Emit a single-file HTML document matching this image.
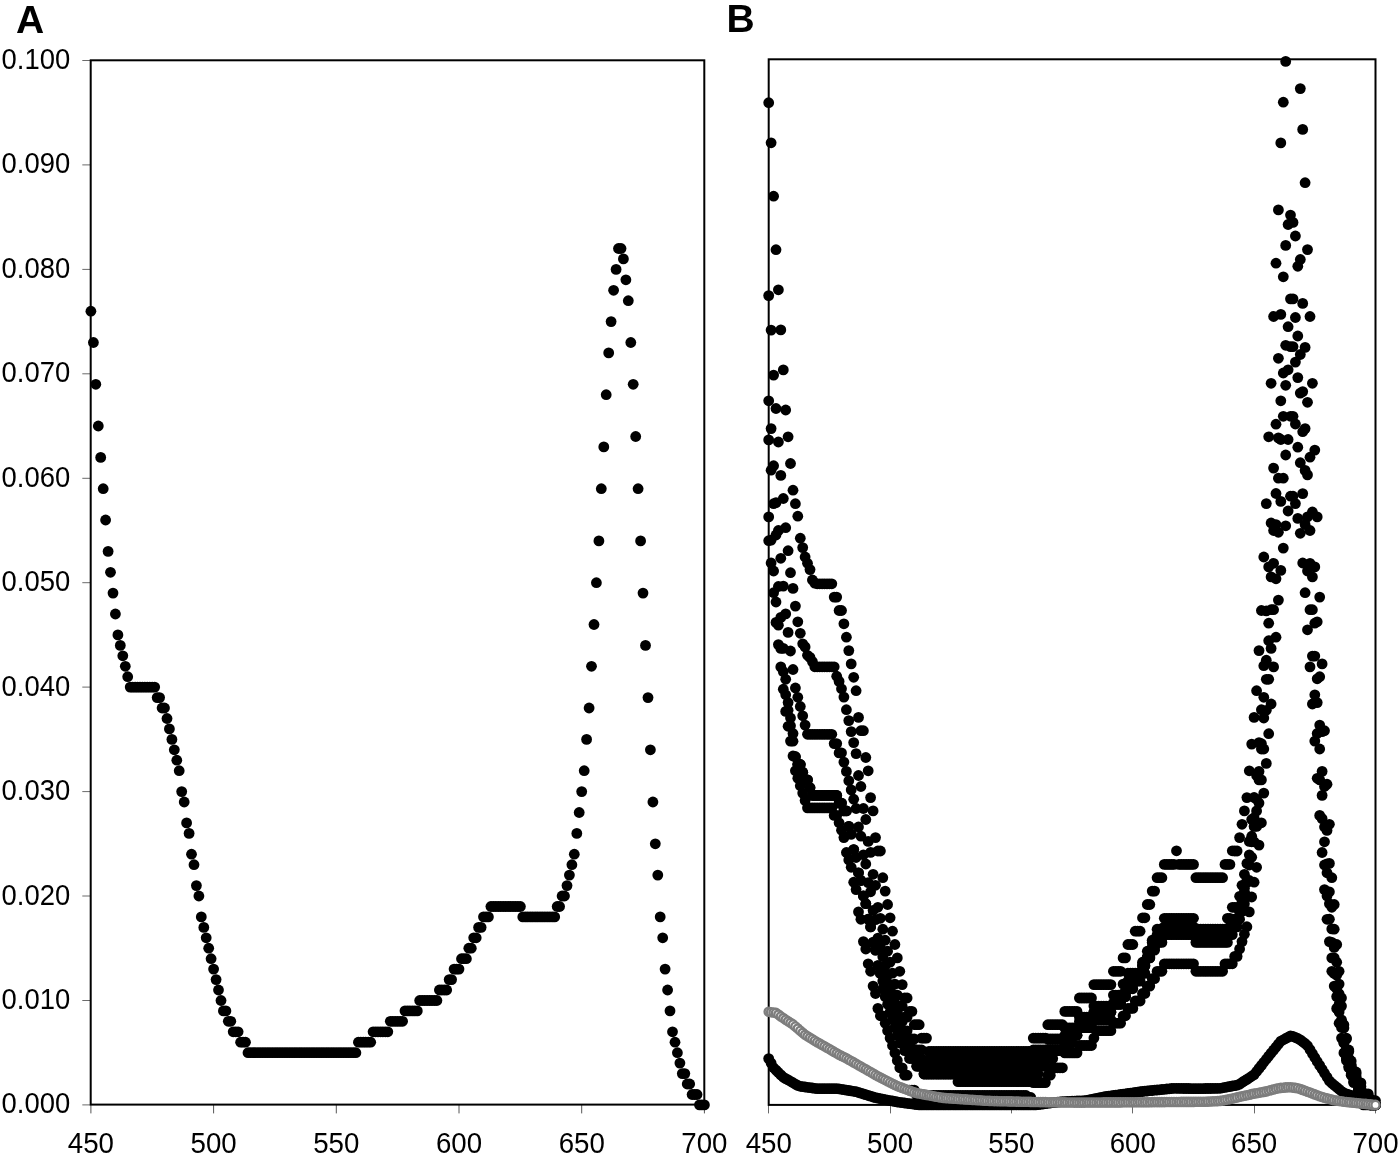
<!DOCTYPE html><html><head><meta charset="utf-8"><style>html,body{margin:0;padding:0;background:#fff;}svg{display:block;filter:grayscale(1);}text{font-family:"Liberation Sans",sans-serif;fill:#000;}</style></head><body><svg width="1400" height="1156" viewBox="0 0 1400 1156">
<rect width="1400" height="1156" fill="#fff"/>
<text x="16" y="32.8" font-family="Liberation Sans" font-weight="bold" font-size="39">A</text>
<text x="726.5" y="32.3" font-family="Liberation Sans" font-weight="bold" font-size="39">B</text>
<line x1="82.3" y1="1104.9" x2="90" y2="1104.9" stroke="#6a6a6a" stroke-width="1"/>
<text transform="translate(70.2,1113.4) scale(0.918,1)" text-anchor="end" font-family="Liberation Sans" font-size="29.9">0.000</text>
<line x1="82.3" y1="1000.5" x2="90" y2="1000.5" stroke="#6a6a6a" stroke-width="1"/>
<text transform="translate(70.2,1009.0) scale(0.918,1)" text-anchor="end" font-family="Liberation Sans" font-size="29.9">0.010</text>
<line x1="82.3" y1="896.0" x2="90" y2="896.0" stroke="#6a6a6a" stroke-width="1"/>
<text transform="translate(70.2,904.5) scale(0.918,1)" text-anchor="end" font-family="Liberation Sans" font-size="29.9">0.020</text>
<line x1="82.3" y1="791.6" x2="90" y2="791.6" stroke="#6a6a6a" stroke-width="1"/>
<text transform="translate(70.2,800.1) scale(0.918,1)" text-anchor="end" font-family="Liberation Sans" font-size="29.9">0.030</text>
<line x1="82.3" y1="687.1" x2="90" y2="687.1" stroke="#6a6a6a" stroke-width="1"/>
<text transform="translate(70.2,695.6) scale(0.918,1)" text-anchor="end" font-family="Liberation Sans" font-size="29.9">0.040</text>
<line x1="82.3" y1="582.7" x2="90" y2="582.7" stroke="#6a6a6a" stroke-width="1"/>
<text transform="translate(70.2,591.2) scale(0.918,1)" text-anchor="end" font-family="Liberation Sans" font-size="29.9">0.050</text>
<line x1="82.3" y1="478.3" x2="90" y2="478.3" stroke="#6a6a6a" stroke-width="1"/>
<text transform="translate(70.2,486.8) scale(0.918,1)" text-anchor="end" font-family="Liberation Sans" font-size="29.9">0.060</text>
<line x1="82.3" y1="373.8" x2="90" y2="373.8" stroke="#6a6a6a" stroke-width="1"/>
<text transform="translate(70.2,382.3) scale(0.918,1)" text-anchor="end" font-family="Liberation Sans" font-size="29.9">0.070</text>
<line x1="82.3" y1="269.4" x2="90" y2="269.4" stroke="#6a6a6a" stroke-width="1"/>
<text transform="translate(70.2,277.9) scale(0.918,1)" text-anchor="end" font-family="Liberation Sans" font-size="29.9">0.080</text>
<line x1="82.3" y1="164.9" x2="90" y2="164.9" stroke="#6a6a6a" stroke-width="1"/>
<text transform="translate(70.2,173.4) scale(0.918,1)" text-anchor="end" font-family="Liberation Sans" font-size="29.9">0.090</text>
<line x1="82.3" y1="60.5" x2="90" y2="60.5" stroke="#6a6a6a" stroke-width="1"/>
<text transform="translate(70.2,69.0) scale(0.918,1)" text-anchor="end" font-family="Liberation Sans" font-size="29.9">0.100</text>
<line x1="90.9" y1="1105" x2="90.9" y2="1113.4" stroke="#555" stroke-width="1"/>
<text transform="translate(90.9,1152.9) scale(0.925,1)" text-anchor="middle" font-family="Liberation Sans" font-size="29.9">450</text>
<line x1="768.5" y1="1105" x2="768.5" y2="1113.4" stroke="#6a6a6a" stroke-width="1"/>
<text transform="translate(768.7,1152.9) scale(0.925,1)" text-anchor="middle" font-family="Liberation Sans" font-size="29.9">450</text>
<line x1="213.6" y1="1105" x2="213.6" y2="1113.4" stroke="#555" stroke-width="1"/>
<text transform="translate(213.6,1152.9) scale(0.925,1)" text-anchor="middle" font-family="Liberation Sans" font-size="29.9">500</text>
<line x1="890.5" y1="1105" x2="890.5" y2="1113.4" stroke="#6a6a6a" stroke-width="1"/>
<text transform="translate(890.1,1152.9) scale(0.925,1)" text-anchor="middle" font-family="Liberation Sans" font-size="29.9">500</text>
<line x1="336.3" y1="1105" x2="336.3" y2="1113.4" stroke="#555" stroke-width="1"/>
<text transform="translate(336.3,1152.9) scale(0.925,1)" text-anchor="middle" font-family="Liberation Sans" font-size="29.9">550</text>
<line x1="1011.5" y1="1105" x2="1011.5" y2="1113.4" stroke="#6a6a6a" stroke-width="1"/>
<text transform="translate(1011.4,1152.9) scale(0.925,1)" text-anchor="middle" font-family="Liberation Sans" font-size="29.9">550</text>
<line x1="459.0" y1="1105" x2="459.0" y2="1113.4" stroke="#555" stroke-width="1"/>
<text transform="translate(459.0,1152.9) scale(0.925,1)" text-anchor="middle" font-family="Liberation Sans" font-size="29.9">600</text>
<line x1="1132.5" y1="1105" x2="1132.5" y2="1113.4" stroke="#6a6a6a" stroke-width="1"/>
<text transform="translate(1132.8,1152.9) scale(0.925,1)" text-anchor="middle" font-family="Liberation Sans" font-size="29.9">600</text>
<line x1="581.7" y1="1105" x2="581.7" y2="1113.4" stroke="#555" stroke-width="1"/>
<text transform="translate(581.7,1152.9) scale(0.925,1)" text-anchor="middle" font-family="Liberation Sans" font-size="29.9">650</text>
<line x1="1254.5" y1="1105" x2="1254.5" y2="1113.4" stroke="#6a6a6a" stroke-width="1"/>
<text transform="translate(1254.1,1152.9) scale(0.925,1)" text-anchor="middle" font-family="Liberation Sans" font-size="29.9">650</text>
<line x1="704.4" y1="1105" x2="704.4" y2="1113.4" stroke="#555" stroke-width="1"/>
<text transform="translate(704.4,1152.9) scale(0.925,1)" text-anchor="middle" font-family="Liberation Sans" font-size="29.9">700</text>
<line x1="1375.5" y1="1105" x2="1375.5" y2="1113.4" stroke="#6a6a6a" stroke-width="1"/>
<text transform="translate(1375.5,1152.9) scale(0.925,1)" text-anchor="middle" font-family="Liberation Sans" font-size="29.9">700</text>
<rect x="90.7" y="60.3" width="613.6" height="1044.3" fill="none" stroke="#000" stroke-width="2"/>
<rect x="768.7" y="59.3" width="606.8" height="1045.6" fill="none" stroke="#000" stroke-width="2"/>
<g fill="#000">
<circle cx="90.9" cy="311.2" r="5.4"/>
<circle cx="93.4" cy="342.5" r="5.4"/>
<circle cx="95.8" cy="384.3" r="5.4"/>
<circle cx="98.3" cy="426.0" r="5.4"/>
<circle cx="100.7" cy="457.4" r="5.4"/>
<circle cx="103.2" cy="488.7" r="5.4"/>
<circle cx="105.6" cy="520.0" r="5.4"/>
<circle cx="108.1" cy="551.4" r="5.4"/>
<circle cx="110.5" cy="572.3" r="5.4"/>
<circle cx="113.0" cy="593.1" r="5.4"/>
<circle cx="115.4" cy="614.0" r="5.4"/>
<circle cx="117.9" cy="634.9" r="5.4"/>
<circle cx="120.3" cy="645.4" r="5.4"/>
<circle cx="122.8" cy="655.8" r="5.4"/>
<circle cx="125.3" cy="666.3" r="5.4"/>
<circle cx="127.7" cy="676.7" r="5.4"/>
<circle cx="130.2" cy="687.1" r="5.4"/>
<circle cx="132.6" cy="687.1" r="5.4"/>
<circle cx="135.1" cy="687.1" r="5.4"/>
<circle cx="137.5" cy="687.1" r="5.4"/>
<circle cx="140.0" cy="687.1" r="5.4"/>
<circle cx="142.4" cy="687.1" r="5.4"/>
<circle cx="144.9" cy="687.1" r="5.4"/>
<circle cx="147.3" cy="687.1" r="5.4"/>
<circle cx="149.8" cy="687.1" r="5.4"/>
<circle cx="152.2" cy="687.1" r="5.4"/>
<circle cx="154.7" cy="687.1" r="5.4"/>
<circle cx="157.2" cy="697.6" r="5.4"/>
<circle cx="159.6" cy="697.6" r="5.4"/>
<circle cx="162.1" cy="708.0" r="5.4"/>
<circle cx="164.5" cy="708.0" r="5.4"/>
<circle cx="167.0" cy="718.5" r="5.4"/>
<circle cx="169.4" cy="728.9" r="5.4"/>
<circle cx="171.9" cy="739.4" r="5.4"/>
<circle cx="174.3" cy="749.8" r="5.4"/>
<circle cx="176.8" cy="760.2" r="5.4"/>
<circle cx="179.2" cy="770.7" r="5.4"/>
<circle cx="181.7" cy="791.6" r="5.4"/>
<circle cx="184.2" cy="802.0" r="5.4"/>
<circle cx="186.6" cy="822.9" r="5.4"/>
<circle cx="189.1" cy="833.4" r="5.4"/>
<circle cx="191.5" cy="854.2" r="5.4"/>
<circle cx="194.0" cy="864.7" r="5.4"/>
<circle cx="196.4" cy="885.6" r="5.4"/>
<circle cx="198.9" cy="896.0" r="5.4"/>
<circle cx="201.3" cy="916.9" r="5.4"/>
<circle cx="203.8" cy="927.4" r="5.4"/>
<circle cx="206.2" cy="937.8" r="5.4"/>
<circle cx="208.7" cy="948.2" r="5.4"/>
<circle cx="211.1" cy="958.7" r="5.4"/>
<circle cx="213.6" cy="969.1" r="5.4"/>
<circle cx="216.1" cy="979.6" r="5.4"/>
<circle cx="218.5" cy="990.0" r="5.4"/>
<circle cx="221.0" cy="1000.5" r="5.4"/>
<circle cx="223.4" cy="1010.9" r="5.4"/>
<circle cx="225.9" cy="1010.9" r="5.4"/>
<circle cx="228.3" cy="1021.3" r="5.4"/>
<circle cx="230.8" cy="1021.3" r="5.4"/>
<circle cx="233.2" cy="1031.8" r="5.4"/>
<circle cx="235.7" cy="1031.8" r="5.4"/>
<circle cx="238.1" cy="1031.8" r="5.4"/>
<circle cx="240.6" cy="1042.2" r="5.4"/>
<circle cx="243.0" cy="1042.2" r="5.4"/>
<circle cx="245.5" cy="1042.2" r="5.4"/>
<circle cx="248.0" cy="1052.7" r="5.4"/>
<circle cx="250.4" cy="1052.7" r="5.4"/>
<circle cx="252.9" cy="1052.7" r="5.4"/>
<circle cx="255.3" cy="1052.7" r="5.4"/>
<circle cx="257.8" cy="1052.7" r="5.4"/>
<circle cx="260.2" cy="1052.7" r="5.4"/>
<circle cx="262.7" cy="1052.7" r="5.4"/>
<circle cx="265.1" cy="1052.7" r="5.4"/>
<circle cx="267.6" cy="1052.7" r="5.4"/>
<circle cx="270.0" cy="1052.7" r="5.4"/>
<circle cx="272.5" cy="1052.7" r="5.4"/>
<circle cx="275.0" cy="1052.7" r="5.4"/>
<circle cx="277.4" cy="1052.7" r="5.4"/>
<circle cx="279.9" cy="1052.7" r="5.4"/>
<circle cx="282.3" cy="1052.7" r="5.4"/>
<circle cx="284.8" cy="1052.7" r="5.4"/>
<circle cx="287.2" cy="1052.7" r="5.4"/>
<circle cx="289.7" cy="1052.7" r="5.4"/>
<circle cx="292.1" cy="1052.7" r="5.4"/>
<circle cx="294.6" cy="1052.7" r="5.4"/>
<circle cx="297.0" cy="1052.7" r="5.4"/>
<circle cx="299.5" cy="1052.7" r="5.4"/>
<circle cx="301.9" cy="1052.7" r="5.4"/>
<circle cx="304.4" cy="1052.7" r="5.4"/>
<circle cx="306.9" cy="1052.7" r="5.4"/>
<circle cx="309.3" cy="1052.7" r="5.4"/>
<circle cx="311.8" cy="1052.7" r="5.4"/>
<circle cx="314.2" cy="1052.7" r="5.4"/>
<circle cx="316.7" cy="1052.7" r="5.4"/>
<circle cx="319.1" cy="1052.7" r="5.4"/>
<circle cx="321.6" cy="1052.7" r="5.4"/>
<circle cx="324.0" cy="1052.7" r="5.4"/>
<circle cx="326.5" cy="1052.7" r="5.4"/>
<circle cx="328.9" cy="1052.7" r="5.4"/>
<circle cx="331.4" cy="1052.7" r="5.4"/>
<circle cx="333.8" cy="1052.7" r="5.4"/>
<circle cx="336.3" cy="1052.7" r="5.4"/>
<circle cx="338.8" cy="1052.7" r="5.4"/>
<circle cx="341.2" cy="1052.7" r="5.4"/>
<circle cx="343.7" cy="1052.7" r="5.4"/>
<circle cx="346.1" cy="1052.7" r="5.4"/>
<circle cx="348.6" cy="1052.7" r="5.4"/>
<circle cx="351.0" cy="1052.7" r="5.4"/>
<circle cx="353.5" cy="1052.7" r="5.4"/>
<circle cx="355.9" cy="1052.7" r="5.4"/>
<circle cx="358.4" cy="1042.2" r="5.4"/>
<circle cx="360.8" cy="1042.2" r="5.4"/>
<circle cx="363.3" cy="1042.2" r="5.4"/>
<circle cx="365.7" cy="1042.2" r="5.4"/>
<circle cx="368.2" cy="1042.2" r="5.4"/>
<circle cx="370.7" cy="1042.2" r="5.4"/>
<circle cx="373.1" cy="1031.8" r="5.4"/>
<circle cx="375.6" cy="1031.8" r="5.4"/>
<circle cx="378.0" cy="1031.8" r="5.4"/>
<circle cx="380.5" cy="1031.8" r="5.4"/>
<circle cx="382.9" cy="1031.8" r="5.4"/>
<circle cx="385.4" cy="1031.8" r="5.4"/>
<circle cx="387.8" cy="1031.8" r="5.4"/>
<circle cx="390.3" cy="1021.3" r="5.4"/>
<circle cx="392.7" cy="1021.3" r="5.4"/>
<circle cx="395.2" cy="1021.3" r="5.4"/>
<circle cx="397.6" cy="1021.3" r="5.4"/>
<circle cx="400.1" cy="1021.3" r="5.4"/>
<circle cx="402.6" cy="1021.3" r="5.4"/>
<circle cx="405.0" cy="1010.9" r="5.4"/>
<circle cx="407.5" cy="1010.9" r="5.4"/>
<circle cx="409.9" cy="1010.9" r="5.4"/>
<circle cx="412.4" cy="1010.9" r="5.4"/>
<circle cx="414.8" cy="1010.9" r="5.4"/>
<circle cx="417.3" cy="1010.9" r="5.4"/>
<circle cx="419.7" cy="1000.5" r="5.4"/>
<circle cx="422.2" cy="1000.5" r="5.4"/>
<circle cx="424.6" cy="1000.5" r="5.4"/>
<circle cx="427.1" cy="1000.5" r="5.4"/>
<circle cx="429.6" cy="1000.5" r="5.4"/>
<circle cx="432.0" cy="1000.5" r="5.4"/>
<circle cx="434.5" cy="1000.5" r="5.4"/>
<circle cx="436.9" cy="1000.5" r="5.4"/>
<circle cx="439.4" cy="990.0" r="5.4"/>
<circle cx="441.8" cy="990.0" r="5.4"/>
<circle cx="444.3" cy="990.0" r="5.4"/>
<circle cx="446.7" cy="990.0" r="5.4"/>
<circle cx="449.2" cy="979.6" r="5.4"/>
<circle cx="451.6" cy="979.6" r="5.4"/>
<circle cx="454.1" cy="969.1" r="5.4"/>
<circle cx="456.5" cy="969.1" r="5.4"/>
<circle cx="459.0" cy="969.1" r="5.4"/>
<circle cx="461.5" cy="958.7" r="5.4"/>
<circle cx="463.9" cy="958.7" r="5.4"/>
<circle cx="466.4" cy="958.7" r="5.4"/>
<circle cx="468.8" cy="948.2" r="5.4"/>
<circle cx="471.3" cy="948.2" r="5.4"/>
<circle cx="473.7" cy="937.8" r="5.4"/>
<circle cx="476.2" cy="937.8" r="5.4"/>
<circle cx="478.6" cy="927.4" r="5.4"/>
<circle cx="481.1" cy="927.4" r="5.4"/>
<circle cx="483.5" cy="916.9" r="5.4"/>
<circle cx="486.0" cy="916.9" r="5.4"/>
<circle cx="488.4" cy="916.9" r="5.4"/>
<circle cx="490.9" cy="906.5" r="5.4"/>
<circle cx="493.4" cy="906.5" r="5.4"/>
<circle cx="495.8" cy="906.5" r="5.4"/>
<circle cx="498.3" cy="906.5" r="5.4"/>
<circle cx="500.7" cy="906.5" r="5.4"/>
<circle cx="503.2" cy="906.5" r="5.4"/>
<circle cx="505.6" cy="906.5" r="5.4"/>
<circle cx="508.1" cy="906.5" r="5.4"/>
<circle cx="510.5" cy="906.5" r="5.4"/>
<circle cx="513.0" cy="906.5" r="5.4"/>
<circle cx="515.4" cy="906.5" r="5.4"/>
<circle cx="517.9" cy="906.5" r="5.4"/>
<circle cx="520.4" cy="906.5" r="5.4"/>
<circle cx="522.8" cy="916.9" r="5.4"/>
<circle cx="525.3" cy="916.9" r="5.4"/>
<circle cx="527.7" cy="916.9" r="5.4"/>
<circle cx="530.2" cy="916.9" r="5.4"/>
<circle cx="532.6" cy="916.9" r="5.4"/>
<circle cx="535.1" cy="916.9" r="5.4"/>
<circle cx="537.5" cy="916.9" r="5.4"/>
<circle cx="540.0" cy="916.9" r="5.4"/>
<circle cx="542.4" cy="916.9" r="5.4"/>
<circle cx="544.9" cy="916.9" r="5.4"/>
<circle cx="547.3" cy="916.9" r="5.4"/>
<circle cx="549.8" cy="916.9" r="5.4"/>
<circle cx="552.3" cy="916.9" r="5.4"/>
<circle cx="554.7" cy="916.9" r="5.4"/>
<circle cx="557.2" cy="906.5" r="5.4"/>
<circle cx="559.6" cy="906.5" r="5.4"/>
<circle cx="562.1" cy="896.0" r="5.4"/>
<circle cx="564.5" cy="896.0" r="5.4"/>
<circle cx="567.0" cy="885.6" r="5.4"/>
<circle cx="569.4" cy="875.1" r="5.4"/>
<circle cx="571.9" cy="864.7" r="5.4"/>
<circle cx="574.3" cy="854.2" r="5.4"/>
<circle cx="576.8" cy="833.4" r="5.4"/>
<circle cx="579.2" cy="812.5" r="5.4"/>
<circle cx="581.7" cy="791.6" r="5.4"/>
<circle cx="584.2" cy="770.7" r="5.4"/>
<circle cx="586.6" cy="739.4" r="5.4"/>
<circle cx="589.1" cy="708.0" r="5.4"/>
<circle cx="591.5" cy="666.3" r="5.4"/>
<circle cx="594.0" cy="624.5" r="5.4"/>
<circle cx="596.4" cy="582.7" r="5.4"/>
<circle cx="598.9" cy="540.9" r="5.4"/>
<circle cx="601.3" cy="488.7" r="5.4"/>
<circle cx="603.8" cy="446.9" r="5.4"/>
<circle cx="606.2" cy="394.7" r="5.4"/>
<circle cx="608.7" cy="352.9" r="5.4"/>
<circle cx="611.1" cy="321.6" r="5.4"/>
<circle cx="613.6" cy="290.3" r="5.4"/>
<circle cx="616.1" cy="269.4" r="5.4"/>
<circle cx="618.5" cy="248.5" r="5.4"/>
<circle cx="621.0" cy="248.5" r="5.4"/>
<circle cx="623.4" cy="258.9" r="5.4"/>
<circle cx="625.9" cy="279.8" r="5.4"/>
<circle cx="628.3" cy="300.7" r="5.4"/>
<circle cx="630.8" cy="342.5" r="5.4"/>
<circle cx="633.2" cy="384.3" r="5.4"/>
<circle cx="635.7" cy="436.5" r="5.4"/>
<circle cx="638.1" cy="488.7" r="5.4"/>
<circle cx="640.6" cy="540.9" r="5.4"/>
<circle cx="643.0" cy="593.1" r="5.4"/>
<circle cx="645.5" cy="645.4" r="5.4"/>
<circle cx="648.0" cy="697.6" r="5.4"/>
<circle cx="650.4" cy="749.8" r="5.4"/>
<circle cx="652.9" cy="802.0" r="5.4"/>
<circle cx="655.3" cy="843.8" r="5.4"/>
<circle cx="657.8" cy="875.1" r="5.4"/>
<circle cx="660.2" cy="916.9" r="5.4"/>
<circle cx="662.7" cy="937.8" r="5.4"/>
<circle cx="665.1" cy="969.1" r="5.4"/>
<circle cx="667.6" cy="990.0" r="5.4"/>
<circle cx="670.0" cy="1010.9" r="5.4"/>
<circle cx="672.5" cy="1031.8" r="5.4"/>
<circle cx="675.0" cy="1042.2" r="5.4"/>
<circle cx="677.4" cy="1052.7" r="5.4"/>
<circle cx="679.9" cy="1063.1" r="5.4"/>
<circle cx="682.3" cy="1073.6" r="5.4"/>
<circle cx="684.8" cy="1073.6" r="5.4"/>
<circle cx="687.2" cy="1084.0" r="5.4"/>
<circle cx="689.7" cy="1084.0" r="5.4"/>
<circle cx="692.1" cy="1094.5" r="5.4"/>
<circle cx="694.6" cy="1094.5" r="5.4"/>
<circle cx="697.0" cy="1094.5" r="5.4"/>
<circle cx="699.5" cy="1104.9" r="5.4"/>
<circle cx="701.9" cy="1104.9" r="5.4"/>
<circle cx="704.4" cy="1104.9" r="5.4"/>
</g>
<g fill="#000">
<circle cx="768.7" cy="102.7" r="5.4"/>
<circle cx="771.1" cy="142.8" r="5.4"/>
<circle cx="773.6" cy="196.2" r="5.4"/>
<circle cx="776.0" cy="249.7" r="5.4"/>
<circle cx="778.4" cy="289.8" r="5.4"/>
<circle cx="780.8" cy="329.9" r="5.4"/>
<circle cx="783.3" cy="369.9" r="5.4"/>
<circle cx="785.7" cy="410.0" r="5.4"/>
<circle cx="788.1" cy="436.8" r="5.4"/>
<circle cx="790.5" cy="463.5" r="5.4"/>
<circle cx="793.0" cy="490.2" r="5.4"/>
<circle cx="795.4" cy="503.7" r="5.4"/>
<circle cx="797.8" cy="516.2" r="5.4"/>
<circle cx="800.3" cy="538.2" r="5.4"/>
<circle cx="802.7" cy="547.6" r="5.4"/>
<circle cx="805.1" cy="557.0" r="5.4"/>
<circle cx="807.5" cy="563.3" r="5.4"/>
<circle cx="810.0" cy="569.6" r="5.4"/>
<circle cx="812.4" cy="580.0" r="5.4"/>
<circle cx="814.8" cy="583.1" r="5.4"/>
<circle cx="817.2" cy="583.8" r="5.4"/>
<circle cx="819.7" cy="583.8" r="5.4"/>
<circle cx="822.1" cy="583.8" r="5.4"/>
<circle cx="824.5" cy="583.8" r="5.4"/>
<circle cx="827.0" cy="583.8" r="5.4"/>
<circle cx="829.4" cy="583.8" r="5.4"/>
<circle cx="831.8" cy="583.8" r="5.4"/>
<circle cx="834.2" cy="597.1" r="5.4"/>
<circle cx="836.7" cy="597.1" r="5.4"/>
<circle cx="839.1" cy="610.5" r="5.4"/>
<circle cx="841.5" cy="610.5" r="5.4"/>
<circle cx="843.9" cy="623.8" r="5.4"/>
<circle cx="846.4" cy="637.2" r="5.4"/>
<circle cx="848.8" cy="650.6" r="5.4"/>
<circle cx="851.2" cy="663.9" r="5.4"/>
<circle cx="853.7" cy="677.3" r="5.4"/>
<circle cx="856.1" cy="690.7" r="5.4"/>
<circle cx="858.5" cy="717.4" r="5.4"/>
<circle cx="860.9" cy="730.7" r="5.4"/>
<circle cx="863.4" cy="730.7" r="5.4"/>
<circle cx="865.8" cy="757.5" r="5.4"/>
<circle cx="868.2" cy="770.8" r="5.4"/>
<circle cx="870.6" cy="797.6" r="5.4"/>
<circle cx="873.1" cy="810.9" r="5.4"/>
<circle cx="875.5" cy="837.6" r="5.4"/>
<circle cx="877.9" cy="851.0" r="5.4"/>
<circle cx="880.4" cy="851.0" r="5.4"/>
<circle cx="882.8" cy="877.7" r="5.4"/>
<circle cx="885.2" cy="891.1" r="5.4"/>
<circle cx="887.6" cy="904.5" r="5.4"/>
<circle cx="890.1" cy="917.8" r="5.4"/>
<circle cx="892.5" cy="931.2" r="5.4"/>
<circle cx="894.9" cy="944.5" r="5.4"/>
<circle cx="897.3" cy="957.9" r="5.4"/>
<circle cx="899.8" cy="971.3" r="5.4"/>
<circle cx="902.2" cy="984.6" r="5.4"/>
<circle cx="904.6" cy="998.0" r="5.4"/>
<circle cx="907.1" cy="998.0" r="5.4"/>
<circle cx="909.5" cy="1011.4" r="5.4"/>
<circle cx="911.9" cy="1011.4" r="5.4"/>
<circle cx="914.3" cy="1024.7" r="5.4"/>
<circle cx="916.8" cy="1024.7" r="5.4"/>
<circle cx="919.2" cy="1024.7" r="5.4"/>
<circle cx="921.6" cy="1038.1" r="5.4"/>
<circle cx="924.0" cy="1038.1" r="5.4"/>
<circle cx="926.5" cy="1038.1" r="5.4"/>
<circle cx="928.9" cy="1051.4" r="5.4"/>
<circle cx="931.3" cy="1051.4" r="5.4"/>
<circle cx="933.7" cy="1051.4" r="5.4"/>
<circle cx="936.2" cy="1051.4" r="5.4"/>
<circle cx="938.6" cy="1051.4" r="5.4"/>
<circle cx="941.0" cy="1051.4" r="5.4"/>
<circle cx="943.5" cy="1051.4" r="5.4"/>
<circle cx="945.9" cy="1051.4" r="5.4"/>
<circle cx="948.3" cy="1051.4" r="5.4"/>
<circle cx="950.7" cy="1051.4" r="5.4"/>
<circle cx="953.2" cy="1051.4" r="5.4"/>
<circle cx="955.6" cy="1051.4" r="5.4"/>
<circle cx="958.0" cy="1051.4" r="5.4"/>
<circle cx="960.4" cy="1051.4" r="5.4"/>
<circle cx="962.9" cy="1051.4" r="5.4"/>
<circle cx="965.3" cy="1051.4" r="5.4"/>
<circle cx="967.7" cy="1051.4" r="5.4"/>
<circle cx="970.2" cy="1051.4" r="5.4"/>
<circle cx="972.6" cy="1051.4" r="5.4"/>
<circle cx="975.0" cy="1051.4" r="5.4"/>
<circle cx="977.4" cy="1051.4" r="5.4"/>
<circle cx="979.9" cy="1051.4" r="5.4"/>
<circle cx="982.3" cy="1051.4" r="5.4"/>
<circle cx="984.7" cy="1051.4" r="5.4"/>
<circle cx="987.1" cy="1051.4" r="5.4"/>
<circle cx="989.6" cy="1051.4" r="5.4"/>
<circle cx="992.0" cy="1051.4" r="5.4"/>
<circle cx="994.4" cy="1051.4" r="5.4"/>
<circle cx="996.9" cy="1051.4" r="5.4"/>
<circle cx="999.3" cy="1051.4" r="5.4"/>
<circle cx="1001.7" cy="1051.4" r="5.4"/>
<circle cx="1004.1" cy="1051.4" r="5.4"/>
<circle cx="1006.6" cy="1051.4" r="5.4"/>
<circle cx="1009.0" cy="1051.4" r="5.4"/>
<circle cx="1011.4" cy="1051.4" r="5.4"/>
<circle cx="1013.8" cy="1051.4" r="5.4"/>
<circle cx="1016.3" cy="1051.4" r="5.4"/>
<circle cx="1018.7" cy="1051.4" r="5.4"/>
<circle cx="1021.1" cy="1051.4" r="5.4"/>
<circle cx="1023.6" cy="1051.4" r="5.4"/>
<circle cx="1026.0" cy="1051.4" r="5.4"/>
<circle cx="1028.4" cy="1051.4" r="5.4"/>
<circle cx="1030.8" cy="1051.4" r="5.4"/>
<circle cx="1033.3" cy="1038.1" r="5.4"/>
<circle cx="1035.7" cy="1038.1" r="5.4"/>
<circle cx="1038.1" cy="1038.1" r="5.4"/>
<circle cx="1040.5" cy="1038.1" r="5.4"/>
<circle cx="1043.0" cy="1038.1" r="5.4"/>
<circle cx="1045.4" cy="1038.1" r="5.4"/>
<circle cx="1047.8" cy="1024.7" r="5.4"/>
<circle cx="1050.3" cy="1024.7" r="5.4"/>
<circle cx="1052.7" cy="1024.7" r="5.4"/>
<circle cx="1055.1" cy="1024.7" r="5.4"/>
<circle cx="1057.5" cy="1024.7" r="5.4"/>
<circle cx="1060.0" cy="1024.7" r="5.4"/>
<circle cx="1062.4" cy="1024.7" r="5.4"/>
<circle cx="1064.8" cy="1011.4" r="5.4"/>
<circle cx="1067.2" cy="1011.4" r="5.4"/>
<circle cx="1069.7" cy="1011.4" r="5.4"/>
<circle cx="1072.1" cy="1011.4" r="5.4"/>
<circle cx="1074.5" cy="1011.4" r="5.4"/>
<circle cx="1077.0" cy="1011.4" r="5.4"/>
<circle cx="1079.4" cy="998.0" r="5.4"/>
<circle cx="1081.8" cy="998.0" r="5.4"/>
<circle cx="1084.2" cy="998.0" r="5.4"/>
<circle cx="1086.7" cy="998.0" r="5.4"/>
<circle cx="1089.1" cy="998.0" r="5.4"/>
<circle cx="1091.5" cy="998.0" r="5.4"/>
<circle cx="1093.9" cy="984.6" r="5.4"/>
<circle cx="1096.4" cy="984.6" r="5.4"/>
<circle cx="1098.8" cy="984.6" r="5.4"/>
<circle cx="1101.2" cy="984.6" r="5.4"/>
<circle cx="1103.7" cy="984.6" r="5.4"/>
<circle cx="1106.1" cy="984.6" r="5.4"/>
<circle cx="1108.5" cy="984.6" r="5.4"/>
<circle cx="1110.9" cy="984.6" r="5.4"/>
<circle cx="1113.4" cy="971.3" r="5.4"/>
<circle cx="1115.8" cy="971.3" r="5.4"/>
<circle cx="1118.2" cy="971.3" r="5.4"/>
<circle cx="1120.6" cy="971.3" r="5.4"/>
<circle cx="1123.1" cy="957.9" r="5.4"/>
<circle cx="1125.5" cy="957.9" r="5.4"/>
<circle cx="1127.9" cy="944.5" r="5.4"/>
<circle cx="1130.4" cy="944.5" r="5.4"/>
<circle cx="1132.8" cy="944.5" r="5.4"/>
<circle cx="1135.2" cy="931.2" r="5.4"/>
<circle cx="1137.6" cy="931.2" r="5.4"/>
<circle cx="1140.1" cy="931.2" r="5.4"/>
<circle cx="1142.5" cy="917.8" r="5.4"/>
<circle cx="1144.9" cy="917.8" r="5.4"/>
<circle cx="1147.3" cy="904.5" r="5.4"/>
<circle cx="1149.8" cy="904.5" r="5.4"/>
<circle cx="1152.2" cy="891.1" r="5.4"/>
<circle cx="1154.6" cy="891.1" r="5.4"/>
<circle cx="1157.1" cy="877.7" r="5.4"/>
<circle cx="1159.5" cy="877.7" r="5.4"/>
<circle cx="1161.9" cy="877.7" r="5.4"/>
<circle cx="1164.3" cy="864.4" r="5.4"/>
<circle cx="1166.8" cy="864.4" r="5.4"/>
<circle cx="1169.2" cy="864.4" r="5.4"/>
<circle cx="1171.6" cy="864.4" r="5.4"/>
<circle cx="1174.0" cy="864.4" r="5.4"/>
<circle cx="1176.5" cy="850.8" r="5.4"/>
<circle cx="1178.9" cy="864.4" r="5.4"/>
<circle cx="1181.3" cy="864.4" r="5.4"/>
<circle cx="1183.8" cy="864.4" r="5.4"/>
<circle cx="1186.2" cy="864.4" r="5.4"/>
<circle cx="1188.6" cy="864.4" r="5.4"/>
<circle cx="1191.0" cy="864.4" r="5.4"/>
<circle cx="1193.5" cy="864.4" r="5.4"/>
<circle cx="1195.9" cy="877.7" r="5.4"/>
<circle cx="1198.3" cy="877.7" r="5.4"/>
<circle cx="1200.7" cy="877.7" r="5.4"/>
<circle cx="1203.2" cy="877.7" r="5.4"/>
<circle cx="1205.6" cy="877.7" r="5.4"/>
<circle cx="1208.0" cy="877.7" r="5.4"/>
<circle cx="1210.5" cy="877.7" r="5.4"/>
<circle cx="1212.9" cy="877.7" r="5.4"/>
<circle cx="1215.3" cy="877.7" r="5.4"/>
<circle cx="1217.7" cy="877.7" r="5.4"/>
<circle cx="1220.2" cy="877.7" r="5.4"/>
<circle cx="1222.6" cy="877.7" r="5.4"/>
<circle cx="1225.0" cy="864.4" r="5.4"/>
<circle cx="1227.4" cy="864.4" r="5.4"/>
<circle cx="1229.9" cy="864.4" r="5.4"/>
<circle cx="1232.3" cy="850.8" r="5.4"/>
<circle cx="1234.7" cy="851.0" r="5.4"/>
<circle cx="1237.1" cy="851.0" r="5.4"/>
<circle cx="1239.6" cy="837.6" r="5.4"/>
<circle cx="1242.0" cy="824.3" r="5.4"/>
<circle cx="1244.4" cy="810.9" r="5.4"/>
<circle cx="1246.9" cy="797.6" r="5.4"/>
<circle cx="1249.3" cy="770.8" r="5.4"/>
<circle cx="1251.7" cy="744.1" r="5.4"/>
<circle cx="1254.1" cy="717.4" r="5.4"/>
<circle cx="1256.6" cy="690.7" r="5.4"/>
<circle cx="1259.0" cy="650.6" r="5.4"/>
<circle cx="1261.4" cy="610.5" r="5.4"/>
<circle cx="1263.8" cy="557.0" r="5.4"/>
<circle cx="1266.3" cy="503.6" r="5.4"/>
<circle cx="1268.7" cy="436.8" r="5.4"/>
<circle cx="1271.1" cy="383.3" r="5.4"/>
<circle cx="1273.6" cy="316.5" r="5.4"/>
<circle cx="1276.0" cy="263.2" r="5.4"/>
<circle cx="1278.4" cy="209.9" r="5.4"/>
<circle cx="1280.8" cy="142.9" r="5.4"/>
<circle cx="1283.3" cy="102.2" r="5.4"/>
<circle cx="1285.7" cy="61.4" r="5.4"/>
<circle cx="1300.3" cy="88.6" r="5.4"/>
<circle cx="1302.7" cy="129.4" r="5.4"/>
<circle cx="1305.1" cy="182.7" r="5.4"/>
<circle cx="1307.5" cy="249.6" r="5.4"/>
<circle cx="1310.0" cy="316.5" r="5.4"/>
<circle cx="1312.4" cy="383.3" r="5.4"/>
<circle cx="1314.8" cy="450.1" r="5.4"/>
<circle cx="1317.2" cy="516.9" r="5.4"/>
<circle cx="1319.7" cy="597.1" r="5.4"/>
<circle cx="1322.1" cy="663.9" r="5.4"/>
<circle cx="1324.5" cy="730.7" r="5.4"/>
<circle cx="1327.0" cy="784.2" r="5.4"/>
<circle cx="1329.4" cy="824.3" r="5.4"/>
<circle cx="1331.8" cy="877.7" r="5.4"/>
<circle cx="1334.2" cy="904.5" r="5.4"/>
<circle cx="1336.7" cy="944.5" r="5.4"/>
<circle cx="1339.1" cy="971.3" r="5.4"/>
<circle cx="1341.5" cy="998.0" r="5.4"/>
<circle cx="1343.9" cy="1024.7" r="5.4"/>
<circle cx="1346.4" cy="1038.1" r="5.4"/>
<circle cx="1348.8" cy="1051.4" r="5.4"/>
<circle cx="1351.2" cy="1064.8" r="5.4"/>
<circle cx="1353.7" cy="1078.2" r="5.4"/>
<circle cx="1356.1" cy="1078.2" r="5.4"/>
<circle cx="1358.5" cy="1091.5" r="5.4"/>
<circle cx="1360.9" cy="1091.5" r="5.4"/>
<circle cx="1363.4" cy="1104.9" r="5.4"/>
<circle cx="1365.8" cy="1104.9" r="5.4"/>
<circle cx="1368.2" cy="1104.9" r="5.4"/>
<circle cx="768.7" cy="295.6" r="5.4"/>
<circle cx="771.1" cy="330.1" r="5.4"/>
<circle cx="773.6" cy="375.1" r="5.4"/>
<circle cx="776.0" cy="408.5" r="5.4"/>
<circle cx="778.4" cy="442.0" r="5.4"/>
<circle cx="780.8" cy="475.4" r="5.4"/>
<circle cx="783.3" cy="498.5" r="5.4"/>
<circle cx="785.7" cy="527.7" r="5.4"/>
<circle cx="788.1" cy="550.7" r="5.4"/>
<circle cx="790.5" cy="572.7" r="5.4"/>
<circle cx="793.0" cy="588.4" r="5.4"/>
<circle cx="795.4" cy="606.1" r="5.4"/>
<circle cx="797.8" cy="621.8" r="5.4"/>
<circle cx="800.3" cy="633.3" r="5.4"/>
<circle cx="802.7" cy="643.8" r="5.4"/>
<circle cx="805.1" cy="646.9" r="5.4"/>
<circle cx="807.5" cy="655.3" r="5.4"/>
<circle cx="810.0" cy="657.4" r="5.4"/>
<circle cx="812.4" cy="661.6" r="5.4"/>
<circle cx="814.8" cy="666.8" r="5.4"/>
<circle cx="817.2" cy="666.8" r="5.4"/>
<circle cx="819.7" cy="666.8" r="5.4"/>
<circle cx="822.1" cy="666.8" r="5.4"/>
<circle cx="824.5" cy="666.8" r="5.4"/>
<circle cx="827.0" cy="666.8" r="5.4"/>
<circle cx="829.4" cy="666.8" r="5.4"/>
<circle cx="831.8" cy="666.8" r="5.4"/>
<circle cx="834.2" cy="666.8" r="5.4"/>
<circle cx="836.7" cy="676.2" r="5.4"/>
<circle cx="839.1" cy="681.4" r="5.4"/>
<circle cx="841.5" cy="688.8" r="5.4"/>
<circle cx="843.9" cy="697.1" r="5.4"/>
<circle cx="846.4" cy="709.7" r="5.4"/>
<circle cx="848.8" cy="720.6" r="5.4"/>
<circle cx="851.2" cy="731.6" r="5.4"/>
<circle cx="853.7" cy="742.6" r="5.4"/>
<circle cx="856.1" cy="753.6" r="5.4"/>
<circle cx="858.5" cy="775.5" r="5.4"/>
<circle cx="860.9" cy="786.5" r="5.4"/>
<circle cx="863.4" cy="808.5" r="5.4"/>
<circle cx="865.8" cy="819.5" r="5.4"/>
<circle cx="868.2" cy="841.4" r="5.4"/>
<circle cx="870.6" cy="852.4" r="5.4"/>
<circle cx="873.1" cy="874.3" r="5.4"/>
<circle cx="875.5" cy="885.3" r="5.4"/>
<circle cx="877.9" cy="907.3" r="5.4"/>
<circle cx="880.4" cy="918.3" r="5.4"/>
<circle cx="882.8" cy="929.2" r="5.4"/>
<circle cx="885.2" cy="940.2" r="5.4"/>
<circle cx="887.6" cy="951.2" r="5.4"/>
<circle cx="890.1" cy="962.2" r="5.4"/>
<circle cx="892.5" cy="973.2" r="5.4"/>
<circle cx="894.9" cy="984.1" r="5.4"/>
<circle cx="897.3" cy="995.1" r="5.4"/>
<circle cx="899.8" cy="1006.1" r="5.4"/>
<circle cx="902.2" cy="1006.1" r="5.4"/>
<circle cx="904.6" cy="1017.1" r="5.4"/>
<circle cx="907.1" cy="1017.1" r="5.4"/>
<circle cx="909.5" cy="1039.0" r="5.4"/>
<circle cx="911.9" cy="1039.0" r="5.4"/>
<circle cx="914.3" cy="1039.0" r="5.4"/>
<circle cx="916.8" cy="1050.0" r="5.4"/>
<circle cx="919.2" cy="1050.0" r="5.4"/>
<circle cx="921.6" cy="1050.0" r="5.4"/>
<circle cx="924.0" cy="1061.0" r="5.4"/>
<circle cx="926.5" cy="1061.0" r="5.4"/>
<circle cx="928.9" cy="1061.0" r="5.4"/>
<circle cx="931.3" cy="1061.0" r="5.4"/>
<circle cx="933.7" cy="1061.0" r="5.4"/>
<circle cx="936.2" cy="1061.0" r="5.4"/>
<circle cx="938.6" cy="1061.0" r="5.4"/>
<circle cx="941.0" cy="1061.0" r="5.4"/>
<circle cx="943.5" cy="1061.0" r="5.4"/>
<circle cx="945.9" cy="1061.0" r="5.4"/>
<circle cx="948.3" cy="1061.0" r="5.4"/>
<circle cx="950.7" cy="1061.0" r="5.4"/>
<circle cx="953.2" cy="1061.0" r="5.4"/>
<circle cx="955.6" cy="1061.0" r="5.4"/>
<circle cx="958.0" cy="1061.0" r="5.4"/>
<circle cx="960.4" cy="1061.0" r="5.4"/>
<circle cx="962.9" cy="1061.0" r="5.4"/>
<circle cx="965.3" cy="1061.0" r="5.4"/>
<circle cx="967.7" cy="1061.0" r="5.4"/>
<circle cx="970.2" cy="1061.0" r="5.4"/>
<circle cx="972.6" cy="1061.0" r="5.4"/>
<circle cx="975.0" cy="1061.0" r="5.4"/>
<circle cx="977.4" cy="1061.0" r="5.4"/>
<circle cx="979.9" cy="1061.0" r="5.4"/>
<circle cx="982.3" cy="1061.0" r="5.4"/>
<circle cx="984.7" cy="1061.0" r="5.4"/>
<circle cx="987.1" cy="1061.0" r="5.4"/>
<circle cx="989.6" cy="1061.0" r="5.4"/>
<circle cx="992.0" cy="1061.0" r="5.4"/>
<circle cx="994.4" cy="1061.0" r="5.4"/>
<circle cx="996.9" cy="1061.0" r="5.4"/>
<circle cx="999.3" cy="1061.0" r="5.4"/>
<circle cx="1001.7" cy="1061.0" r="5.4"/>
<circle cx="1004.1" cy="1061.0" r="5.4"/>
<circle cx="1006.6" cy="1061.0" r="5.4"/>
<circle cx="1009.0" cy="1061.0" r="5.4"/>
<circle cx="1011.4" cy="1061.0" r="5.4"/>
<circle cx="1013.8" cy="1061.0" r="5.4"/>
<circle cx="1016.3" cy="1061.0" r="5.4"/>
<circle cx="1018.7" cy="1061.0" r="5.4"/>
<circle cx="1021.1" cy="1061.0" r="5.4"/>
<circle cx="1023.6" cy="1061.0" r="5.4"/>
<circle cx="1026.0" cy="1061.0" r="5.4"/>
<circle cx="1028.4" cy="1061.0" r="5.4"/>
<circle cx="1030.8" cy="1061.0" r="5.4"/>
<circle cx="1033.3" cy="1050.0" r="5.4"/>
<circle cx="1035.7" cy="1050.0" r="5.4"/>
<circle cx="1038.1" cy="1050.0" r="5.4"/>
<circle cx="1040.5" cy="1050.0" r="5.4"/>
<circle cx="1043.0" cy="1050.0" r="5.4"/>
<circle cx="1045.4" cy="1050.0" r="5.4"/>
<circle cx="1047.8" cy="1039.0" r="5.4"/>
<circle cx="1050.3" cy="1039.0" r="5.4"/>
<circle cx="1052.7" cy="1039.0" r="5.4"/>
<circle cx="1055.1" cy="1039.0" r="5.4"/>
<circle cx="1057.5" cy="1039.0" r="5.4"/>
<circle cx="1060.0" cy="1039.0" r="5.4"/>
<circle cx="1062.4" cy="1039.0" r="5.4"/>
<circle cx="1064.8" cy="1028.0" r="5.4"/>
<circle cx="1067.2" cy="1028.0" r="5.4"/>
<circle cx="1069.7" cy="1028.0" r="5.4"/>
<circle cx="1072.1" cy="1028.0" r="5.4"/>
<circle cx="1074.5" cy="1028.0" r="5.4"/>
<circle cx="1077.0" cy="1028.0" r="5.4"/>
<circle cx="1079.4" cy="1017.1" r="5.4"/>
<circle cx="1081.8" cy="1017.1" r="5.4"/>
<circle cx="1084.2" cy="1017.1" r="5.4"/>
<circle cx="1086.7" cy="1017.1" r="5.4"/>
<circle cx="1089.1" cy="1017.1" r="5.4"/>
<circle cx="1091.5" cy="1017.1" r="5.4"/>
<circle cx="1093.9" cy="1006.1" r="5.4"/>
<circle cx="1096.4" cy="1006.1" r="5.4"/>
<circle cx="1098.8" cy="1006.1" r="5.4"/>
<circle cx="1101.2" cy="1006.1" r="5.4"/>
<circle cx="1103.7" cy="1006.1" r="5.4"/>
<circle cx="1106.1" cy="1006.1" r="5.4"/>
<circle cx="1108.5" cy="1006.1" r="5.4"/>
<circle cx="1110.9" cy="1006.1" r="5.4"/>
<circle cx="1113.4" cy="995.1" r="5.4"/>
<circle cx="1115.8" cy="995.1" r="5.4"/>
<circle cx="1118.2" cy="995.1" r="5.4"/>
<circle cx="1120.6" cy="995.1" r="5.4"/>
<circle cx="1123.1" cy="984.1" r="5.4"/>
<circle cx="1125.5" cy="984.1" r="5.4"/>
<circle cx="1127.9" cy="973.2" r="5.4"/>
<circle cx="1130.4" cy="973.2" r="5.4"/>
<circle cx="1132.8" cy="973.2" r="5.4"/>
<circle cx="1135.2" cy="973.2" r="5.4"/>
<circle cx="1137.6" cy="973.2" r="5.4"/>
<circle cx="1140.1" cy="973.2" r="5.4"/>
<circle cx="1142.5" cy="962.2" r="5.4"/>
<circle cx="1144.9" cy="962.2" r="5.4"/>
<circle cx="1147.3" cy="951.2" r="5.4"/>
<circle cx="1149.8" cy="951.2" r="5.4"/>
<circle cx="1152.2" cy="940.2" r="5.4"/>
<circle cx="1154.6" cy="940.2" r="5.4"/>
<circle cx="1157.1" cy="929.2" r="5.4"/>
<circle cx="1159.5" cy="929.2" r="5.4"/>
<circle cx="1161.9" cy="929.2" r="5.4"/>
<circle cx="1164.3" cy="918.3" r="5.4"/>
<circle cx="1166.8" cy="918.3" r="5.4"/>
<circle cx="1169.2" cy="918.3" r="5.4"/>
<circle cx="1171.6" cy="918.3" r="5.4"/>
<circle cx="1174.0" cy="918.3" r="5.4"/>
<circle cx="1176.5" cy="918.3" r="5.4"/>
<circle cx="1178.9" cy="918.3" r="5.4"/>
<circle cx="1181.3" cy="918.3" r="5.4"/>
<circle cx="1183.8" cy="918.3" r="5.4"/>
<circle cx="1186.2" cy="918.3" r="5.4"/>
<circle cx="1188.6" cy="918.3" r="5.4"/>
<circle cx="1191.0" cy="918.3" r="5.4"/>
<circle cx="1193.5" cy="918.3" r="5.4"/>
<circle cx="1195.9" cy="929.2" r="5.4"/>
<circle cx="1198.3" cy="929.2" r="5.4"/>
<circle cx="1200.7" cy="929.2" r="5.4"/>
<circle cx="1203.2" cy="929.2" r="5.4"/>
<circle cx="1205.6" cy="929.2" r="5.4"/>
<circle cx="1208.0" cy="929.2" r="5.4"/>
<circle cx="1210.5" cy="929.2" r="5.4"/>
<circle cx="1212.9" cy="929.2" r="5.4"/>
<circle cx="1215.3" cy="929.2" r="5.4"/>
<circle cx="1217.7" cy="929.2" r="5.4"/>
<circle cx="1220.2" cy="929.2" r="5.4"/>
<circle cx="1222.6" cy="929.2" r="5.4"/>
<circle cx="1225.0" cy="929.2" r="5.4"/>
<circle cx="1227.4" cy="918.3" r="5.4"/>
<circle cx="1229.9" cy="918.3" r="5.4"/>
<circle cx="1232.3" cy="907.3" r="5.4"/>
<circle cx="1234.7" cy="907.3" r="5.4"/>
<circle cx="1237.1" cy="907.3" r="5.4"/>
<circle cx="1239.6" cy="896.3" r="5.4"/>
<circle cx="1242.0" cy="885.3" r="5.4"/>
<circle cx="1244.4" cy="874.3" r="5.4"/>
<circle cx="1246.9" cy="863.4" r="5.4"/>
<circle cx="1249.3" cy="841.4" r="5.4"/>
<circle cx="1251.7" cy="819.5" r="5.4"/>
<circle cx="1254.1" cy="797.5" r="5.4"/>
<circle cx="1256.6" cy="775.5" r="5.4"/>
<circle cx="1259.0" cy="742.6" r="5.4"/>
<circle cx="1261.4" cy="709.7" r="5.4"/>
<circle cx="1263.8" cy="665.7" r="5.4"/>
<circle cx="1266.3" cy="610.9" r="5.4"/>
<circle cx="1268.7" cy="566.9" r="5.4"/>
<circle cx="1271.1" cy="523.0" r="5.4"/>
<circle cx="1273.6" cy="468.1" r="5.4"/>
<circle cx="1276.0" cy="424.2" r="5.4"/>
<circle cx="1278.4" cy="358.3" r="5.4"/>
<circle cx="1280.8" cy="314.4" r="5.4"/>
<circle cx="1283.3" cy="276.8" r="5.4"/>
<circle cx="1285.7" cy="245.4" r="5.4"/>
<circle cx="1288.1" cy="224.5" r="5.4"/>
<circle cx="1290.5" cy="215.1" r="5.4"/>
<circle cx="1293.0" cy="222.4" r="5.4"/>
<circle cx="1295.4" cy="236.0" r="5.4"/>
<circle cx="1297.8" cy="266.3" r="5.4"/>
<circle cx="1300.3" cy="259.5" r="5.4"/>
<circle cx="1302.7" cy="303.4" r="5.4"/>
<circle cx="1305.1" cy="347.4" r="5.4"/>
<circle cx="1307.5" cy="402.3" r="5.4"/>
<circle cx="1310.0" cy="457.2" r="5.4"/>
<circle cx="1312.4" cy="512.0" r="5.4"/>
<circle cx="1314.8" cy="566.9" r="5.4"/>
<circle cx="1317.2" cy="621.8" r="5.4"/>
<circle cx="1319.7" cy="676.7" r="5.4"/>
<circle cx="1322.1" cy="731.6" r="5.4"/>
<circle cx="1324.5" cy="786.5" r="5.4"/>
<circle cx="1327.0" cy="830.4" r="5.4"/>
<circle cx="1329.4" cy="863.4" r="5.4"/>
<circle cx="1331.8" cy="907.3" r="5.4"/>
<circle cx="1334.2" cy="929.2" r="5.4"/>
<circle cx="1336.7" cy="962.2" r="5.4"/>
<circle cx="1339.1" cy="984.1" r="5.4"/>
<circle cx="1341.5" cy="1006.1" r="5.4"/>
<circle cx="1343.9" cy="1028.0" r="5.4"/>
<circle cx="1346.4" cy="1039.0" r="5.4"/>
<circle cx="1348.8" cy="1050.0" r="5.4"/>
<circle cx="1351.2" cy="1061.0" r="5.4"/>
<circle cx="1353.7" cy="1072.0" r="5.4"/>
<circle cx="1356.1" cy="1072.0" r="5.4"/>
<circle cx="1358.5" cy="1082.9" r="5.4"/>
<circle cx="1360.9" cy="1082.9" r="5.4"/>
<circle cx="1363.4" cy="1093.9" r="5.4"/>
<circle cx="1365.8" cy="1093.9" r="5.4"/>
<circle cx="1368.2" cy="1093.9" r="5.4"/>
<circle cx="1370.6" cy="1104.9" r="5.4"/>
<circle cx="1373.1" cy="1104.9" r="5.4"/>
<circle cx="1375.5" cy="1104.9" r="5.4"/>
<circle cx="768.7" cy="400.8" r="5.4"/>
<circle cx="771.1" cy="428.6" r="5.4"/>
<circle cx="773.6" cy="465.7" r="5.4"/>
<circle cx="776.0" cy="502.7" r="5.4"/>
<circle cx="778.4" cy="530.5" r="5.4"/>
<circle cx="780.8" cy="558.3" r="5.4"/>
<circle cx="783.3" cy="586.1" r="5.4"/>
<circle cx="785.7" cy="613.9" r="5.4"/>
<circle cx="788.1" cy="632.4" r="5.4"/>
<circle cx="790.5" cy="651.0" r="5.4"/>
<circle cx="793.0" cy="669.5" r="5.4"/>
<circle cx="795.4" cy="688.0" r="5.4"/>
<circle cx="797.8" cy="697.3" r="5.4"/>
<circle cx="800.3" cy="706.5" r="5.4"/>
<circle cx="802.7" cy="715.8" r="5.4"/>
<circle cx="805.1" cy="725.1" r="5.4"/>
<circle cx="807.5" cy="734.3" r="5.4"/>
<circle cx="810.0" cy="734.3" r="5.4"/>
<circle cx="812.4" cy="734.3" r="5.4"/>
<circle cx="814.8" cy="734.3" r="5.4"/>
<circle cx="817.2" cy="734.3" r="5.4"/>
<circle cx="819.7" cy="734.3" r="5.4"/>
<circle cx="822.1" cy="734.3" r="5.4"/>
<circle cx="824.5" cy="734.3" r="5.4"/>
<circle cx="827.0" cy="734.3" r="5.4"/>
<circle cx="829.4" cy="734.3" r="5.4"/>
<circle cx="831.8" cy="734.3" r="5.4"/>
<circle cx="834.2" cy="743.6" r="5.4"/>
<circle cx="836.7" cy="743.6" r="5.4"/>
<circle cx="839.1" cy="752.9" r="5.4"/>
<circle cx="841.5" cy="752.9" r="5.4"/>
<circle cx="843.9" cy="762.1" r="5.4"/>
<circle cx="846.4" cy="771.4" r="5.4"/>
<circle cx="848.8" cy="780.7" r="5.4"/>
<circle cx="851.2" cy="789.9" r="5.4"/>
<circle cx="853.7" cy="799.2" r="5.4"/>
<circle cx="856.1" cy="808.5" r="5.4"/>
<circle cx="858.5" cy="827.0" r="5.4"/>
<circle cx="860.9" cy="836.2" r="5.4"/>
<circle cx="863.4" cy="854.8" r="5.4"/>
<circle cx="865.8" cy="864.0" r="5.4"/>
<circle cx="868.2" cy="882.6" r="5.4"/>
<circle cx="870.6" cy="891.8" r="5.4"/>
<circle cx="873.1" cy="910.4" r="5.4"/>
<circle cx="875.5" cy="919.6" r="5.4"/>
<circle cx="877.9" cy="938.1" r="5.4"/>
<circle cx="880.4" cy="947.4" r="5.4"/>
<circle cx="882.8" cy="956.7" r="5.4"/>
<circle cx="885.2" cy="965.9" r="5.4"/>
<circle cx="887.6" cy="975.2" r="5.4"/>
<circle cx="890.1" cy="984.5" r="5.4"/>
<circle cx="892.5" cy="993.7" r="5.4"/>
<circle cx="894.9" cy="1003.0" r="5.4"/>
<circle cx="897.3" cy="1012.3" r="5.4"/>
<circle cx="899.8" cy="1021.5" r="5.4"/>
<circle cx="902.2" cy="1021.5" r="5.4"/>
<circle cx="904.6" cy="1030.8" r="5.4"/>
<circle cx="907.1" cy="1030.8" r="5.4"/>
<circle cx="909.5" cy="1040.1" r="5.4"/>
<circle cx="911.9" cy="1040.1" r="5.4"/>
<circle cx="914.3" cy="1049.3" r="5.4"/>
<circle cx="916.8" cy="1058.6" r="5.4"/>
<circle cx="919.2" cy="1058.6" r="5.4"/>
<circle cx="921.6" cy="1058.6" r="5.4"/>
<circle cx="924.0" cy="1067.8" r="5.4"/>
<circle cx="926.5" cy="1067.8" r="5.4"/>
<circle cx="928.9" cy="1067.8" r="5.4"/>
<circle cx="931.3" cy="1067.8" r="5.4"/>
<circle cx="933.7" cy="1067.8" r="5.4"/>
<circle cx="936.2" cy="1067.8" r="5.4"/>
<circle cx="938.6" cy="1067.8" r="5.4"/>
<circle cx="941.0" cy="1067.8" r="5.4"/>
<circle cx="943.5" cy="1067.8" r="5.4"/>
<circle cx="945.9" cy="1067.8" r="5.4"/>
<circle cx="948.3" cy="1067.8" r="5.4"/>
<circle cx="950.7" cy="1067.8" r="5.4"/>
<circle cx="953.2" cy="1067.8" r="5.4"/>
<circle cx="955.6" cy="1067.8" r="5.4"/>
<circle cx="958.0" cy="1067.8" r="5.4"/>
<circle cx="960.4" cy="1067.8" r="5.4"/>
<circle cx="962.9" cy="1067.8" r="5.4"/>
<circle cx="965.3" cy="1067.8" r="5.4"/>
<circle cx="967.7" cy="1067.8" r="5.4"/>
<circle cx="970.2" cy="1067.8" r="5.4"/>
<circle cx="972.6" cy="1067.8" r="5.4"/>
<circle cx="975.0" cy="1067.8" r="5.4"/>
<circle cx="977.4" cy="1067.8" r="5.4"/>
<circle cx="979.9" cy="1067.8" r="5.4"/>
<circle cx="982.3" cy="1067.8" r="5.4"/>
<circle cx="984.7" cy="1067.8" r="5.4"/>
<circle cx="987.1" cy="1067.8" r="5.4"/>
<circle cx="989.6" cy="1067.8" r="5.4"/>
<circle cx="992.0" cy="1067.8" r="5.4"/>
<circle cx="994.4" cy="1067.8" r="5.4"/>
<circle cx="996.9" cy="1067.8" r="5.4"/>
<circle cx="999.3" cy="1067.8" r="5.4"/>
<circle cx="1001.7" cy="1067.8" r="5.4"/>
<circle cx="1004.1" cy="1067.8" r="5.4"/>
<circle cx="1006.6" cy="1067.8" r="5.4"/>
<circle cx="1009.0" cy="1067.8" r="5.4"/>
<circle cx="1011.4" cy="1067.8" r="5.4"/>
<circle cx="1013.8" cy="1067.8" r="5.4"/>
<circle cx="1016.3" cy="1067.8" r="5.4"/>
<circle cx="1018.7" cy="1067.8" r="5.4"/>
<circle cx="1021.1" cy="1067.8" r="5.4"/>
<circle cx="1023.6" cy="1067.8" r="5.4"/>
<circle cx="1026.0" cy="1067.8" r="5.4"/>
<circle cx="1028.4" cy="1067.8" r="5.4"/>
<circle cx="1030.8" cy="1067.8" r="5.4"/>
<circle cx="1033.3" cy="1058.6" r="5.4"/>
<circle cx="1035.7" cy="1058.6" r="5.4"/>
<circle cx="1038.1" cy="1058.6" r="5.4"/>
<circle cx="1040.5" cy="1058.6" r="5.4"/>
<circle cx="1043.0" cy="1058.6" r="5.4"/>
<circle cx="1045.4" cy="1058.6" r="5.4"/>
<circle cx="1047.8" cy="1049.3" r="5.4"/>
<circle cx="1050.3" cy="1049.3" r="5.4"/>
<circle cx="1052.7" cy="1049.3" r="5.4"/>
<circle cx="1055.1" cy="1049.3" r="5.4"/>
<circle cx="1057.5" cy="1049.3" r="5.4"/>
<circle cx="1060.0" cy="1049.3" r="5.4"/>
<circle cx="1062.4" cy="1049.3" r="5.4"/>
<circle cx="1064.8" cy="1040.1" r="5.4"/>
<circle cx="1067.2" cy="1040.1" r="5.4"/>
<circle cx="1069.7" cy="1030.8" r="5.4"/>
<circle cx="1072.1" cy="1030.8" r="5.4"/>
<circle cx="1074.5" cy="1030.8" r="5.4"/>
<circle cx="1077.0" cy="1030.8" r="5.4"/>
<circle cx="1079.4" cy="1021.5" r="5.4"/>
<circle cx="1081.8" cy="1021.5" r="5.4"/>
<circle cx="1084.2" cy="1021.5" r="5.4"/>
<circle cx="1086.7" cy="1021.5" r="5.4"/>
<circle cx="1089.1" cy="1021.5" r="5.4"/>
<circle cx="1091.5" cy="1021.5" r="5.4"/>
<circle cx="1093.9" cy="1012.3" r="5.4"/>
<circle cx="1096.4" cy="1012.3" r="5.4"/>
<circle cx="1098.8" cy="1012.3" r="5.4"/>
<circle cx="1101.2" cy="1012.3" r="5.4"/>
<circle cx="1103.7" cy="1012.3" r="5.4"/>
<circle cx="1106.1" cy="1012.3" r="5.4"/>
<circle cx="1108.5" cy="1012.3" r="5.4"/>
<circle cx="1110.9" cy="1012.3" r="5.4"/>
<circle cx="1113.4" cy="1003.0" r="5.4"/>
<circle cx="1115.8" cy="1003.0" r="5.4"/>
<circle cx="1118.2" cy="1003.0" r="5.4"/>
<circle cx="1120.6" cy="1003.0" r="5.4"/>
<circle cx="1123.1" cy="993.7" r="5.4"/>
<circle cx="1125.5" cy="993.7" r="5.4"/>
<circle cx="1127.9" cy="984.5" r="5.4"/>
<circle cx="1130.4" cy="984.5" r="5.4"/>
<circle cx="1132.8" cy="984.5" r="5.4"/>
<circle cx="1135.2" cy="975.2" r="5.4"/>
<circle cx="1137.6" cy="975.2" r="5.4"/>
<circle cx="1140.1" cy="975.2" r="5.4"/>
<circle cx="1142.5" cy="965.9" r="5.4"/>
<circle cx="1144.9" cy="965.9" r="5.4"/>
<circle cx="1147.3" cy="956.7" r="5.4"/>
<circle cx="1149.8" cy="956.7" r="5.4"/>
<circle cx="1152.2" cy="947.4" r="5.4"/>
<circle cx="1154.6" cy="947.4" r="5.4"/>
<circle cx="1157.1" cy="938.1" r="5.4"/>
<circle cx="1159.5" cy="938.1" r="5.4"/>
<circle cx="1161.9" cy="938.1" r="5.4"/>
<circle cx="1164.3" cy="928.9" r="5.4"/>
<circle cx="1166.8" cy="928.9" r="5.4"/>
<circle cx="1169.2" cy="928.9" r="5.4"/>
<circle cx="1171.6" cy="928.9" r="5.4"/>
<circle cx="1174.0" cy="928.9" r="5.4"/>
<circle cx="1176.5" cy="928.9" r="5.4"/>
<circle cx="1178.9" cy="928.9" r="5.4"/>
<circle cx="1181.3" cy="928.9" r="5.4"/>
<circle cx="1183.8" cy="928.9" r="5.4"/>
<circle cx="1186.2" cy="928.9" r="5.4"/>
<circle cx="1188.6" cy="928.9" r="5.4"/>
<circle cx="1191.0" cy="928.9" r="5.4"/>
<circle cx="1193.5" cy="928.9" r="5.4"/>
<circle cx="1195.9" cy="938.1" r="5.4"/>
<circle cx="1198.3" cy="938.1" r="5.4"/>
<circle cx="1200.7" cy="938.1" r="5.4"/>
<circle cx="1203.2" cy="938.1" r="5.4"/>
<circle cx="1205.6" cy="938.1" r="5.4"/>
<circle cx="1208.0" cy="938.1" r="5.4"/>
<circle cx="1210.5" cy="938.1" r="5.4"/>
<circle cx="1212.9" cy="938.1" r="5.4"/>
<circle cx="1215.3" cy="938.1" r="5.4"/>
<circle cx="1217.7" cy="938.1" r="5.4"/>
<circle cx="1220.2" cy="938.1" r="5.4"/>
<circle cx="1222.6" cy="938.1" r="5.4"/>
<circle cx="1225.0" cy="938.1" r="5.4"/>
<circle cx="1227.4" cy="928.9" r="5.4"/>
<circle cx="1229.9" cy="928.9" r="5.4"/>
<circle cx="1232.3" cy="919.6" r="5.4"/>
<circle cx="1234.7" cy="919.6" r="5.4"/>
<circle cx="1237.1" cy="919.6" r="5.4"/>
<circle cx="1239.6" cy="910.4" r="5.4"/>
<circle cx="1242.0" cy="901.1" r="5.4"/>
<circle cx="1244.4" cy="891.8" r="5.4"/>
<circle cx="1246.9" cy="882.6" r="5.4"/>
<circle cx="1249.3" cy="854.8" r="5.4"/>
<circle cx="1251.7" cy="836.2" r="5.4"/>
<circle cx="1254.1" cy="817.7" r="5.4"/>
<circle cx="1256.6" cy="799.2" r="5.4"/>
<circle cx="1259.0" cy="771.4" r="5.4"/>
<circle cx="1261.4" cy="743.6" r="5.4"/>
<circle cx="1263.8" cy="697.3" r="5.4"/>
<circle cx="1266.3" cy="660.2" r="5.4"/>
<circle cx="1268.7" cy="623.2" r="5.4"/>
<circle cx="1271.1" cy="576.9" r="5.4"/>
<circle cx="1273.6" cy="530.5" r="5.4"/>
<circle cx="1276.0" cy="493.5" r="5.4"/>
<circle cx="1278.4" cy="437.9" r="5.4"/>
<circle cx="1280.8" cy="400.8" r="5.4"/>
<circle cx="1283.3" cy="373.0" r="5.4"/>
<circle cx="1285.7" cy="345.3" r="5.4"/>
<circle cx="1288.1" cy="326.7" r="5.4"/>
<circle cx="1290.5" cy="298.9" r="5.4"/>
<circle cx="1293.0" cy="298.9" r="5.4"/>
<circle cx="1295.4" cy="317.5" r="5.4"/>
<circle cx="1297.8" cy="336.0" r="5.4"/>
<circle cx="1300.3" cy="354.5" r="5.4"/>
<circle cx="1302.7" cy="391.6" r="5.4"/>
<circle cx="1305.1" cy="428.6" r="5.4"/>
<circle cx="1307.5" cy="474.9" r="5.4"/>
<circle cx="1310.0" cy="530.5" r="5.4"/>
<circle cx="1312.4" cy="576.9" r="5.4"/>
<circle cx="1314.8" cy="623.2" r="5.4"/>
<circle cx="1317.2" cy="678.8" r="5.4"/>
<circle cx="1319.7" cy="725.1" r="5.4"/>
<circle cx="1322.1" cy="771.4" r="5.4"/>
<circle cx="1324.5" cy="827.0" r="5.4"/>
<circle cx="1327.0" cy="864.0" r="5.4"/>
<circle cx="1329.4" cy="891.8" r="5.4"/>
<circle cx="1331.8" cy="928.9" r="5.4"/>
<circle cx="1334.2" cy="947.4" r="5.4"/>
<circle cx="1336.7" cy="975.2" r="5.4"/>
<circle cx="1339.1" cy="993.7" r="5.4"/>
<circle cx="1341.5" cy="1021.5" r="5.4"/>
<circle cx="1343.9" cy="1040.1" r="5.4"/>
<circle cx="1346.4" cy="1049.3" r="5.4"/>
<circle cx="1348.8" cy="1058.6" r="5.4"/>
<circle cx="1351.2" cy="1067.8" r="5.4"/>
<circle cx="1353.7" cy="1077.1" r="5.4"/>
<circle cx="1356.1" cy="1077.1" r="5.4"/>
<circle cx="1358.5" cy="1086.4" r="5.4"/>
<circle cx="1360.9" cy="1086.4" r="5.4"/>
<circle cx="1363.4" cy="1095.6" r="5.4"/>
<circle cx="1365.8" cy="1095.6" r="5.4"/>
<circle cx="1368.2" cy="1095.6" r="5.4"/>
<circle cx="1370.6" cy="1104.9" r="5.4"/>
<circle cx="1373.1" cy="1104.9" r="5.4"/>
<circle cx="1375.5" cy="1104.9" r="5.4"/>
<circle cx="768.7" cy="439.9" r="5.4"/>
<circle cx="771.1" cy="470.2" r="5.4"/>
<circle cx="773.6" cy="503.7" r="5.4"/>
<circle cx="776.0" cy="535.0" r="5.4"/>
<circle cx="778.4" cy="586.5" r="5.4"/>
<circle cx="780.8" cy="617.4" r="5.4"/>
<circle cx="783.3" cy="648.4" r="5.4"/>
<circle cx="785.7" cy="679.3" r="5.4"/>
<circle cx="788.1" cy="702.6" r="5.4"/>
<circle cx="790.5" cy="718.0" r="5.4"/>
<circle cx="793.0" cy="733.5" r="5.4"/>
<circle cx="795.4" cy="756.7" r="5.4"/>
<circle cx="797.8" cy="764.5" r="5.4"/>
<circle cx="800.3" cy="764.5" r="5.4"/>
<circle cx="802.7" cy="772.2" r="5.4"/>
<circle cx="805.1" cy="779.9" r="5.4"/>
<circle cx="807.5" cy="779.9" r="5.4"/>
<circle cx="810.0" cy="787.7" r="5.4"/>
<circle cx="812.4" cy="795.4" r="5.4"/>
<circle cx="814.8" cy="795.4" r="5.4"/>
<circle cx="817.2" cy="795.4" r="5.4"/>
<circle cx="819.7" cy="795.4" r="5.4"/>
<circle cx="822.1" cy="795.4" r="5.4"/>
<circle cx="824.5" cy="795.4" r="5.4"/>
<circle cx="827.0" cy="795.4" r="5.4"/>
<circle cx="829.4" cy="795.4" r="5.4"/>
<circle cx="831.8" cy="795.4" r="5.4"/>
<circle cx="834.2" cy="795.4" r="5.4"/>
<circle cx="836.7" cy="795.4" r="5.4"/>
<circle cx="839.1" cy="803.1" r="5.4"/>
<circle cx="841.5" cy="803.1" r="5.4"/>
<circle cx="843.9" cy="810.9" r="5.4"/>
<circle cx="846.4" cy="810.9" r="5.4"/>
<circle cx="848.8" cy="826.4" r="5.4"/>
<circle cx="851.2" cy="834.1" r="5.4"/>
<circle cx="853.7" cy="849.6" r="5.4"/>
<circle cx="856.1" cy="857.3" r="5.4"/>
<circle cx="858.5" cy="872.8" r="5.4"/>
<circle cx="860.9" cy="880.5" r="5.4"/>
<circle cx="863.4" cy="896.0" r="5.4"/>
<circle cx="865.8" cy="903.7" r="5.4"/>
<circle cx="868.2" cy="919.2" r="5.4"/>
<circle cx="870.6" cy="926.9" r="5.4"/>
<circle cx="873.1" cy="942.4" r="5.4"/>
<circle cx="875.5" cy="950.2" r="5.4"/>
<circle cx="877.9" cy="965.6" r="5.4"/>
<circle cx="880.4" cy="973.4" r="5.4"/>
<circle cx="882.8" cy="981.1" r="5.4"/>
<circle cx="885.2" cy="988.8" r="5.4"/>
<circle cx="887.6" cy="996.6" r="5.4"/>
<circle cx="890.1" cy="1004.3" r="5.4"/>
<circle cx="892.5" cy="1012.1" r="5.4"/>
<circle cx="894.9" cy="1019.8" r="5.4"/>
<circle cx="897.3" cy="1027.5" r="5.4"/>
<circle cx="899.8" cy="1035.3" r="5.4"/>
<circle cx="902.2" cy="1035.3" r="5.4"/>
<circle cx="904.6" cy="1043.0" r="5.4"/>
<circle cx="907.1" cy="1043.0" r="5.4"/>
<circle cx="909.5" cy="1050.7" r="5.4"/>
<circle cx="911.9" cy="1050.7" r="5.4"/>
<circle cx="914.3" cy="1058.5" r="5.4"/>
<circle cx="916.8" cy="1066.2" r="5.4"/>
<circle cx="919.2" cy="1066.2" r="5.4"/>
<circle cx="921.6" cy="1066.2" r="5.4"/>
<circle cx="924.0" cy="1074.0" r="5.4"/>
<circle cx="926.5" cy="1074.0" r="5.4"/>
<circle cx="928.9" cy="1074.0" r="5.4"/>
<circle cx="931.3" cy="1074.0" r="5.4"/>
<circle cx="933.7" cy="1074.0" r="5.4"/>
<circle cx="936.2" cy="1074.0" r="5.4"/>
<circle cx="938.6" cy="1074.0" r="5.4"/>
<circle cx="941.0" cy="1074.0" r="5.4"/>
<circle cx="943.5" cy="1074.0" r="5.4"/>
<circle cx="945.9" cy="1074.0" r="5.4"/>
<circle cx="948.3" cy="1074.0" r="5.4"/>
<circle cx="950.7" cy="1074.0" r="5.4"/>
<circle cx="953.2" cy="1074.0" r="5.4"/>
<circle cx="955.6" cy="1074.0" r="5.4"/>
<circle cx="958.0" cy="1074.0" r="5.4"/>
<circle cx="960.4" cy="1074.0" r="5.4"/>
<circle cx="962.9" cy="1074.0" r="5.4"/>
<circle cx="965.3" cy="1074.0" r="5.4"/>
<circle cx="967.7" cy="1074.0" r="5.4"/>
<circle cx="970.2" cy="1074.0" r="5.4"/>
<circle cx="972.6" cy="1074.0" r="5.4"/>
<circle cx="975.0" cy="1074.0" r="5.4"/>
<circle cx="977.4" cy="1074.0" r="5.4"/>
<circle cx="979.9" cy="1074.0" r="5.4"/>
<circle cx="982.3" cy="1074.0" r="5.4"/>
<circle cx="984.7" cy="1074.0" r="5.4"/>
<circle cx="987.1" cy="1074.0" r="5.4"/>
<circle cx="989.6" cy="1074.0" r="5.4"/>
<circle cx="992.0" cy="1074.0" r="5.4"/>
<circle cx="994.4" cy="1074.0" r="5.4"/>
<circle cx="996.9" cy="1074.0" r="5.4"/>
<circle cx="999.3" cy="1074.0" r="5.4"/>
<circle cx="1001.7" cy="1074.0" r="5.4"/>
<circle cx="1004.1" cy="1074.0" r="5.4"/>
<circle cx="1006.6" cy="1074.0" r="5.4"/>
<circle cx="1009.0" cy="1074.0" r="5.4"/>
<circle cx="1011.4" cy="1074.0" r="5.4"/>
<circle cx="1013.8" cy="1074.0" r="5.4"/>
<circle cx="1016.3" cy="1074.0" r="5.4"/>
<circle cx="1018.7" cy="1074.0" r="5.4"/>
<circle cx="1021.1" cy="1074.0" r="5.4"/>
<circle cx="1023.6" cy="1074.0" r="5.4"/>
<circle cx="1026.0" cy="1074.0" r="5.4"/>
<circle cx="1028.4" cy="1074.0" r="5.4"/>
<circle cx="1030.8" cy="1074.0" r="5.4"/>
<circle cx="1033.3" cy="1066.2" r="5.4"/>
<circle cx="1035.7" cy="1066.2" r="5.4"/>
<circle cx="1038.1" cy="1066.2" r="5.4"/>
<circle cx="1040.5" cy="1058.5" r="5.4"/>
<circle cx="1043.0" cy="1058.5" r="5.4"/>
<circle cx="1045.4" cy="1058.5" r="5.4"/>
<circle cx="1047.8" cy="1050.7" r="5.4"/>
<circle cx="1050.3" cy="1050.7" r="5.4"/>
<circle cx="1052.7" cy="1050.7" r="5.4"/>
<circle cx="1055.1" cy="1050.7" r="5.4"/>
<circle cx="1057.5" cy="1050.7" r="5.4"/>
<circle cx="1060.0" cy="1050.7" r="5.4"/>
<circle cx="1062.4" cy="1050.7" r="5.4"/>
<circle cx="1064.8" cy="1035.3" r="5.4"/>
<circle cx="1067.2" cy="1035.3" r="5.4"/>
<circle cx="1069.7" cy="1035.3" r="5.4"/>
<circle cx="1072.1" cy="1035.3" r="5.4"/>
<circle cx="1074.5" cy="1035.3" r="5.4"/>
<circle cx="1077.0" cy="1035.3" r="5.4"/>
<circle cx="1079.4" cy="1027.5" r="5.4"/>
<circle cx="1081.8" cy="1027.5" r="5.4"/>
<circle cx="1084.2" cy="1027.5" r="5.4"/>
<circle cx="1086.7" cy="1027.5" r="5.4"/>
<circle cx="1089.1" cy="1027.5" r="5.4"/>
<circle cx="1091.5" cy="1027.5" r="5.4"/>
<circle cx="1093.9" cy="1012.1" r="5.4"/>
<circle cx="1096.4" cy="1012.1" r="5.4"/>
<circle cx="1098.8" cy="1012.1" r="5.4"/>
<circle cx="1101.2" cy="1012.1" r="5.4"/>
<circle cx="1103.7" cy="1012.1" r="5.4"/>
<circle cx="1106.1" cy="1012.1" r="5.4"/>
<circle cx="1108.5" cy="1012.1" r="5.4"/>
<circle cx="1110.9" cy="1012.1" r="5.4"/>
<circle cx="1113.4" cy="1004.3" r="5.4"/>
<circle cx="1115.8" cy="1004.3" r="5.4"/>
<circle cx="1118.2" cy="1004.3" r="5.4"/>
<circle cx="1120.6" cy="1004.3" r="5.4"/>
<circle cx="1123.1" cy="996.6" r="5.4"/>
<circle cx="1125.5" cy="996.6" r="5.4"/>
<circle cx="1127.9" cy="981.1" r="5.4"/>
<circle cx="1130.4" cy="981.1" r="5.4"/>
<circle cx="1132.8" cy="981.1" r="5.4"/>
<circle cx="1135.2" cy="973.4" r="5.4"/>
<circle cx="1137.6" cy="973.4" r="5.4"/>
<circle cx="1140.1" cy="973.4" r="5.4"/>
<circle cx="1142.5" cy="965.6" r="5.4"/>
<circle cx="1144.9" cy="965.6" r="5.4"/>
<circle cx="1147.3" cy="957.9" r="5.4"/>
<circle cx="1149.8" cy="957.9" r="5.4"/>
<circle cx="1152.2" cy="942.4" r="5.4"/>
<circle cx="1154.6" cy="942.4" r="5.4"/>
<circle cx="1157.1" cy="934.7" r="5.4"/>
<circle cx="1159.5" cy="934.7" r="5.4"/>
<circle cx="1161.9" cy="934.7" r="5.4"/>
<circle cx="1164.3" cy="926.9" r="5.4"/>
<circle cx="1166.8" cy="926.9" r="5.4"/>
<circle cx="1169.2" cy="926.9" r="5.4"/>
<circle cx="1171.6" cy="926.9" r="5.4"/>
<circle cx="1174.0" cy="926.9" r="5.4"/>
<circle cx="1176.5" cy="926.9" r="5.4"/>
<circle cx="1178.9" cy="926.9" r="5.4"/>
<circle cx="1181.3" cy="926.9" r="5.4"/>
<circle cx="1183.8" cy="926.9" r="5.4"/>
<circle cx="1186.2" cy="926.9" r="5.4"/>
<circle cx="1188.6" cy="926.9" r="5.4"/>
<circle cx="1191.0" cy="926.9" r="5.4"/>
<circle cx="1193.5" cy="926.9" r="5.4"/>
<circle cx="1195.9" cy="934.7" r="5.4"/>
<circle cx="1198.3" cy="934.7" r="5.4"/>
<circle cx="1200.7" cy="934.7" r="5.4"/>
<circle cx="1203.2" cy="934.7" r="5.4"/>
<circle cx="1205.6" cy="934.7" r="5.4"/>
<circle cx="1208.0" cy="934.7" r="5.4"/>
<circle cx="1210.5" cy="934.7" r="5.4"/>
<circle cx="1212.9" cy="934.7" r="5.4"/>
<circle cx="1215.3" cy="934.7" r="5.4"/>
<circle cx="1217.7" cy="934.7" r="5.4"/>
<circle cx="1220.2" cy="934.7" r="5.4"/>
<circle cx="1222.6" cy="934.7" r="5.4"/>
<circle cx="1225.0" cy="934.7" r="5.4"/>
<circle cx="1227.4" cy="934.7" r="5.4"/>
<circle cx="1229.9" cy="926.9" r="5.4"/>
<circle cx="1232.3" cy="926.9" r="5.4"/>
<circle cx="1234.7" cy="919.2" r="5.4"/>
<circle cx="1237.1" cy="919.2" r="5.4"/>
<circle cx="1239.6" cy="911.5" r="5.4"/>
<circle cx="1242.0" cy="896.0" r="5.4"/>
<circle cx="1244.4" cy="888.3" r="5.4"/>
<circle cx="1246.9" cy="880.5" r="5.4"/>
<circle cx="1249.3" cy="865.0" r="5.4"/>
<circle cx="1251.7" cy="841.8" r="5.4"/>
<circle cx="1254.1" cy="826.4" r="5.4"/>
<circle cx="1256.6" cy="810.9" r="5.4"/>
<circle cx="1259.0" cy="779.9" r="5.4"/>
<circle cx="1261.4" cy="749.0" r="5.4"/>
<circle cx="1263.8" cy="718.0" r="5.4"/>
<circle cx="1266.3" cy="679.3" r="5.4"/>
<circle cx="1268.7" cy="640.7" r="5.4"/>
<circle cx="1271.1" cy="609.7" r="5.4"/>
<circle cx="1273.6" cy="563.3" r="5.4"/>
<circle cx="1276.0" cy="524.6" r="5.4"/>
<circle cx="1278.4" cy="478.2" r="5.4"/>
<circle cx="1280.8" cy="439.5" r="5.4"/>
<circle cx="1283.3" cy="416.3" r="5.4"/>
<circle cx="1285.7" cy="385.3" r="5.4"/>
<circle cx="1288.1" cy="369.8" r="5.4"/>
<circle cx="1290.5" cy="346.6" r="5.4"/>
<circle cx="1293.0" cy="346.6" r="5.4"/>
<circle cx="1295.4" cy="362.1" r="5.4"/>
<circle cx="1297.8" cy="377.6" r="5.4"/>
<circle cx="1300.3" cy="393.1" r="5.4"/>
<circle cx="1302.7" cy="431.7" r="5.4"/>
<circle cx="1305.1" cy="470.4" r="5.4"/>
<circle cx="1307.5" cy="516.9" r="5.4"/>
<circle cx="1310.0" cy="563.3" r="5.4"/>
<circle cx="1312.4" cy="609.7" r="5.4"/>
<circle cx="1314.8" cy="656.1" r="5.4"/>
<circle cx="1317.2" cy="702.6" r="5.4"/>
<circle cx="1319.7" cy="749.0" r="5.4"/>
<circle cx="1322.1" cy="795.4" r="5.4"/>
<circle cx="1324.5" cy="841.8" r="5.4"/>
<circle cx="1327.0" cy="872.8" r="5.4"/>
<circle cx="1329.4" cy="903.7" r="5.4"/>
<circle cx="1331.8" cy="942.4" r="5.4"/>
<circle cx="1334.2" cy="957.9" r="5.4"/>
<circle cx="1336.7" cy="988.8" r="5.4"/>
<circle cx="1339.1" cy="1004.3" r="5.4"/>
<circle cx="1341.5" cy="1019.8" r="5.4"/>
<circle cx="1343.9" cy="1043.0" r="5.4"/>
<circle cx="1346.4" cy="1050.7" r="5.4"/>
<circle cx="1348.8" cy="1058.5" r="5.4"/>
<circle cx="1351.2" cy="1066.2" r="5.4"/>
<circle cx="1353.7" cy="1074.0" r="5.4"/>
<circle cx="1356.1" cy="1074.0" r="5.4"/>
<circle cx="1358.5" cy="1089.4" r="5.4"/>
<circle cx="1360.9" cy="1089.4" r="5.4"/>
<circle cx="1363.4" cy="1097.2" r="5.4"/>
<circle cx="1365.8" cy="1097.2" r="5.4"/>
<circle cx="1368.2" cy="1097.2" r="5.4"/>
<circle cx="1370.6" cy="1104.9" r="5.4"/>
<circle cx="1373.1" cy="1104.9" r="5.4"/>
<circle cx="1375.5" cy="1104.9" r="5.4"/>
<circle cx="768.7" cy="516.9" r="5.4"/>
<circle cx="771.1" cy="540.1" r="5.4"/>
<circle cx="773.6" cy="571.0" r="5.4"/>
<circle cx="776.0" cy="602.0" r="5.4"/>
<circle cx="778.4" cy="625.2" r="5.4"/>
<circle cx="780.8" cy="648.4" r="5.4"/>
<circle cx="783.3" cy="671.6" r="5.4"/>
<circle cx="785.7" cy="694.8" r="5.4"/>
<circle cx="788.1" cy="710.3" r="5.4"/>
<circle cx="790.5" cy="725.8" r="5.4"/>
<circle cx="793.0" cy="741.2" r="5.4"/>
<circle cx="795.4" cy="756.7" r="5.4"/>
<circle cx="797.8" cy="764.5" r="5.4"/>
<circle cx="800.3" cy="764.5" r="5.4"/>
<circle cx="802.7" cy="772.2" r="5.4"/>
<circle cx="805.1" cy="779.9" r="5.4"/>
<circle cx="807.5" cy="779.9" r="5.4"/>
<circle cx="810.0" cy="787.7" r="5.4"/>
<circle cx="812.4" cy="795.4" r="5.4"/>
<circle cx="814.8" cy="795.4" r="5.4"/>
<circle cx="817.2" cy="795.4" r="5.4"/>
<circle cx="819.7" cy="795.4" r="5.4"/>
<circle cx="822.1" cy="795.4" r="5.4"/>
<circle cx="824.5" cy="795.4" r="5.4"/>
<circle cx="827.0" cy="795.4" r="5.4"/>
<circle cx="829.4" cy="795.4" r="5.4"/>
<circle cx="831.8" cy="795.4" r="5.4"/>
<circle cx="834.2" cy="795.4" r="5.4"/>
<circle cx="836.7" cy="795.4" r="5.4"/>
<circle cx="839.1" cy="803.1" r="5.4"/>
<circle cx="841.5" cy="803.1" r="5.4"/>
<circle cx="843.9" cy="810.9" r="5.4"/>
<circle cx="846.4" cy="810.9" r="5.4"/>
<circle cx="848.8" cy="826.4" r="5.4"/>
<circle cx="851.2" cy="834.1" r="5.4"/>
<circle cx="853.7" cy="849.6" r="5.4"/>
<circle cx="856.1" cy="857.3" r="5.4"/>
<circle cx="858.5" cy="872.8" r="5.4"/>
<circle cx="860.9" cy="880.5" r="5.4"/>
<circle cx="863.4" cy="896.0" r="5.4"/>
<circle cx="865.8" cy="903.7" r="5.4"/>
<circle cx="868.2" cy="919.2" r="5.4"/>
<circle cx="870.6" cy="926.9" r="5.4"/>
<circle cx="873.1" cy="942.4" r="5.4"/>
<circle cx="875.5" cy="950.2" r="5.4"/>
<circle cx="877.9" cy="965.6" r="5.4"/>
<circle cx="880.4" cy="973.4" r="5.4"/>
<circle cx="882.8" cy="988.8" r="5.4"/>
<circle cx="885.2" cy="996.6" r="5.4"/>
<circle cx="887.6" cy="1004.3" r="5.4"/>
<circle cx="890.1" cy="1012.1" r="5.4"/>
<circle cx="892.5" cy="1019.8" r="5.4"/>
<circle cx="894.9" cy="1027.5" r="5.4"/>
<circle cx="897.3" cy="1035.3" r="5.4"/>
<circle cx="899.8" cy="1043.0" r="5.4"/>
<circle cx="902.2" cy="1043.0" r="5.4"/>
<circle cx="904.6" cy="1050.7" r="5.4"/>
<circle cx="907.1" cy="1050.7" r="5.4"/>
<circle cx="909.5" cy="1058.5" r="5.4"/>
<circle cx="911.9" cy="1058.5" r="5.4"/>
<circle cx="914.3" cy="1058.5" r="5.4"/>
<circle cx="916.8" cy="1066.2" r="5.4"/>
<circle cx="919.2" cy="1066.2" r="5.4"/>
<circle cx="921.6" cy="1066.2" r="5.4"/>
<circle cx="924.0" cy="1074.0" r="5.4"/>
<circle cx="926.5" cy="1074.0" r="5.4"/>
<circle cx="928.9" cy="1074.0" r="5.4"/>
<circle cx="931.3" cy="1074.0" r="5.4"/>
<circle cx="933.7" cy="1074.0" r="5.4"/>
<circle cx="936.2" cy="1074.0" r="5.4"/>
<circle cx="938.6" cy="1074.0" r="5.4"/>
<circle cx="941.0" cy="1074.0" r="5.4"/>
<circle cx="943.5" cy="1074.0" r="5.4"/>
<circle cx="945.9" cy="1074.0" r="5.4"/>
<circle cx="948.3" cy="1074.0" r="5.4"/>
<circle cx="950.7" cy="1074.0" r="5.4"/>
<circle cx="953.2" cy="1074.0" r="5.4"/>
<circle cx="955.6" cy="1074.0" r="5.4"/>
<circle cx="958.0" cy="1081.7" r="5.4"/>
<circle cx="960.4" cy="1081.7" r="5.4"/>
<circle cx="962.9" cy="1081.7" r="5.4"/>
<circle cx="965.3" cy="1081.7" r="5.4"/>
<circle cx="967.7" cy="1081.7" r="5.4"/>
<circle cx="970.2" cy="1081.7" r="5.4"/>
<circle cx="972.6" cy="1081.7" r="5.4"/>
<circle cx="975.0" cy="1081.7" r="5.4"/>
<circle cx="977.4" cy="1081.7" r="5.4"/>
<circle cx="979.9" cy="1081.7" r="5.4"/>
<circle cx="982.3" cy="1081.7" r="5.4"/>
<circle cx="984.7" cy="1081.7" r="5.4"/>
<circle cx="987.1" cy="1081.7" r="5.4"/>
<circle cx="989.6" cy="1081.7" r="5.4"/>
<circle cx="992.0" cy="1081.7" r="5.4"/>
<circle cx="994.4" cy="1081.7" r="5.4"/>
<circle cx="996.9" cy="1081.7" r="5.4"/>
<circle cx="999.3" cy="1081.7" r="5.4"/>
<circle cx="1001.7" cy="1081.7" r="5.4"/>
<circle cx="1004.1" cy="1081.7" r="5.4"/>
<circle cx="1006.6" cy="1081.7" r="5.4"/>
<circle cx="1009.0" cy="1081.7" r="5.4"/>
<circle cx="1011.4" cy="1081.7" r="5.4"/>
<circle cx="1013.8" cy="1081.7" r="5.4"/>
<circle cx="1016.3" cy="1081.7" r="5.4"/>
<circle cx="1018.7" cy="1081.7" r="5.4"/>
<circle cx="1021.1" cy="1081.7" r="5.4"/>
<circle cx="1023.6" cy="1081.7" r="5.4"/>
<circle cx="1026.0" cy="1081.7" r="5.4"/>
<circle cx="1028.4" cy="1081.7" r="5.4"/>
<circle cx="1030.8" cy="1081.7" r="5.4"/>
<circle cx="1033.3" cy="1074.0" r="5.4"/>
<circle cx="1035.7" cy="1074.0" r="5.4"/>
<circle cx="1038.1" cy="1074.0" r="5.4"/>
<circle cx="1040.5" cy="1066.2" r="5.4"/>
<circle cx="1043.0" cy="1066.2" r="5.4"/>
<circle cx="1045.4" cy="1066.2" r="5.4"/>
<circle cx="1047.8" cy="1058.5" r="5.4"/>
<circle cx="1050.3" cy="1058.5" r="5.4"/>
<circle cx="1052.7" cy="1058.5" r="5.4"/>
<circle cx="1055.1" cy="1050.7" r="5.4"/>
<circle cx="1057.5" cy="1050.7" r="5.4"/>
<circle cx="1060.0" cy="1050.7" r="5.4"/>
<circle cx="1062.4" cy="1050.7" r="5.4"/>
<circle cx="1064.8" cy="1043.0" r="5.4"/>
<circle cx="1067.2" cy="1043.0" r="5.4"/>
<circle cx="1069.7" cy="1043.0" r="5.4"/>
<circle cx="1072.1" cy="1043.0" r="5.4"/>
<circle cx="1074.5" cy="1035.3" r="5.4"/>
<circle cx="1077.0" cy="1035.3" r="5.4"/>
<circle cx="1079.4" cy="1027.5" r="5.4"/>
<circle cx="1081.8" cy="1027.5" r="5.4"/>
<circle cx="1084.2" cy="1027.5" r="5.4"/>
<circle cx="1086.7" cy="1027.5" r="5.4"/>
<circle cx="1089.1" cy="1027.5" r="5.4"/>
<circle cx="1091.5" cy="1027.5" r="5.4"/>
<circle cx="1093.9" cy="1019.8" r="5.4"/>
<circle cx="1096.4" cy="1019.8" r="5.4"/>
<circle cx="1098.8" cy="1019.8" r="5.4"/>
<circle cx="1101.2" cy="1019.8" r="5.4"/>
<circle cx="1103.7" cy="1019.8" r="5.4"/>
<circle cx="1106.1" cy="1019.8" r="5.4"/>
<circle cx="1108.5" cy="1019.8" r="5.4"/>
<circle cx="1110.9" cy="1019.8" r="5.4"/>
<circle cx="1113.4" cy="1004.3" r="5.4"/>
<circle cx="1115.8" cy="1004.3" r="5.4"/>
<circle cx="1118.2" cy="1004.3" r="5.4"/>
<circle cx="1120.6" cy="1004.3" r="5.4"/>
<circle cx="1123.1" cy="996.6" r="5.4"/>
<circle cx="1125.5" cy="996.6" r="5.4"/>
<circle cx="1127.9" cy="988.8" r="5.4"/>
<circle cx="1130.4" cy="988.8" r="5.4"/>
<circle cx="1132.8" cy="988.8" r="5.4"/>
<circle cx="1135.2" cy="981.1" r="5.4"/>
<circle cx="1137.6" cy="981.1" r="5.4"/>
<circle cx="1140.1" cy="981.1" r="5.4"/>
<circle cx="1142.5" cy="973.4" r="5.4"/>
<circle cx="1144.9" cy="973.4" r="5.4"/>
<circle cx="1147.3" cy="957.9" r="5.4"/>
<circle cx="1149.8" cy="957.9" r="5.4"/>
<circle cx="1152.2" cy="950.2" r="5.4"/>
<circle cx="1154.6" cy="950.2" r="5.4"/>
<circle cx="1157.1" cy="942.4" r="5.4"/>
<circle cx="1159.5" cy="942.4" r="5.4"/>
<circle cx="1161.9" cy="942.4" r="5.4"/>
<circle cx="1164.3" cy="934.7" r="5.4"/>
<circle cx="1166.8" cy="934.7" r="5.4"/>
<circle cx="1169.2" cy="934.7" r="5.4"/>
<circle cx="1171.6" cy="934.7" r="5.4"/>
<circle cx="1174.0" cy="934.7" r="5.4"/>
<circle cx="1176.5" cy="934.7" r="5.4"/>
<circle cx="1178.9" cy="934.7" r="5.4"/>
<circle cx="1181.3" cy="934.7" r="5.4"/>
<circle cx="1183.8" cy="934.7" r="5.4"/>
<circle cx="1186.2" cy="934.7" r="5.4"/>
<circle cx="1188.6" cy="934.7" r="5.4"/>
<circle cx="1191.0" cy="934.7" r="5.4"/>
<circle cx="1193.5" cy="934.7" r="5.4"/>
<circle cx="1195.9" cy="942.4" r="5.4"/>
<circle cx="1198.3" cy="942.4" r="5.4"/>
<circle cx="1200.7" cy="942.4" r="5.4"/>
<circle cx="1203.2" cy="942.4" r="5.4"/>
<circle cx="1205.6" cy="942.4" r="5.4"/>
<circle cx="1208.0" cy="942.4" r="5.4"/>
<circle cx="1210.5" cy="942.4" r="5.4"/>
<circle cx="1212.9" cy="942.4" r="5.4"/>
<circle cx="1215.3" cy="942.4" r="5.4"/>
<circle cx="1217.7" cy="942.4" r="5.4"/>
<circle cx="1220.2" cy="942.4" r="5.4"/>
<circle cx="1222.6" cy="942.4" r="5.4"/>
<circle cx="1225.0" cy="942.4" r="5.4"/>
<circle cx="1227.4" cy="942.4" r="5.4"/>
<circle cx="1229.9" cy="934.7" r="5.4"/>
<circle cx="1232.3" cy="934.7" r="5.4"/>
<circle cx="1234.7" cy="926.9" r="5.4"/>
<circle cx="1237.1" cy="926.9" r="5.4"/>
<circle cx="1239.6" cy="919.2" r="5.4"/>
<circle cx="1242.0" cy="911.5" r="5.4"/>
<circle cx="1244.4" cy="903.7" r="5.4"/>
<circle cx="1246.9" cy="896.0" r="5.4"/>
<circle cx="1249.3" cy="880.5" r="5.4"/>
<circle cx="1251.7" cy="857.3" r="5.4"/>
<circle cx="1254.1" cy="841.8" r="5.4"/>
<circle cx="1256.6" cy="826.4" r="5.4"/>
<circle cx="1259.0" cy="803.1" r="5.4"/>
<circle cx="1261.4" cy="779.9" r="5.4"/>
<circle cx="1263.8" cy="749.0" r="5.4"/>
<circle cx="1266.3" cy="710.3" r="5.4"/>
<circle cx="1268.7" cy="679.3" r="5.4"/>
<circle cx="1271.1" cy="648.4" r="5.4"/>
<circle cx="1273.6" cy="609.7" r="5.4"/>
<circle cx="1276.0" cy="578.8" r="5.4"/>
<circle cx="1278.4" cy="532.3" r="5.4"/>
<circle cx="1280.8" cy="501.4" r="5.4"/>
<circle cx="1283.3" cy="478.2" r="5.4"/>
<circle cx="1285.7" cy="455.0" r="5.4"/>
<circle cx="1288.1" cy="439.5" r="5.4"/>
<circle cx="1290.5" cy="416.3" r="5.4"/>
<circle cx="1293.0" cy="416.3" r="5.4"/>
<circle cx="1295.4" cy="424.0" r="5.4"/>
<circle cx="1297.8" cy="447.2" r="5.4"/>
<circle cx="1300.3" cy="462.7" r="5.4"/>
<circle cx="1302.7" cy="493.6" r="5.4"/>
<circle cx="1305.1" cy="524.6" r="5.4"/>
<circle cx="1307.5" cy="571.0" r="5.4"/>
<circle cx="1310.0" cy="609.7" r="5.4"/>
<circle cx="1312.4" cy="656.1" r="5.4"/>
<circle cx="1314.8" cy="694.8" r="5.4"/>
<circle cx="1317.2" cy="733.5" r="5.4"/>
<circle cx="1319.7" cy="779.9" r="5.4"/>
<circle cx="1322.1" cy="818.6" r="5.4"/>
<circle cx="1324.5" cy="865.0" r="5.4"/>
<circle cx="1327.0" cy="896.0" r="5.4"/>
<circle cx="1329.4" cy="919.2" r="5.4"/>
<circle cx="1331.8" cy="957.9" r="5.4"/>
<circle cx="1334.2" cy="973.4" r="5.4"/>
<circle cx="1336.7" cy="996.6" r="5.4"/>
<circle cx="1339.1" cy="1012.1" r="5.4"/>
<circle cx="1341.5" cy="1027.5" r="5.4"/>
<circle cx="1343.9" cy="1043.0" r="5.4"/>
<circle cx="1346.4" cy="1058.5" r="5.4"/>
<circle cx="1348.8" cy="1066.2" r="5.4"/>
<circle cx="1351.2" cy="1074.0" r="5.4"/>
<circle cx="1353.7" cy="1081.7" r="5.4"/>
<circle cx="1356.1" cy="1081.7" r="5.4"/>
<circle cx="1358.5" cy="1089.4" r="5.4"/>
<circle cx="1360.9" cy="1089.4" r="5.4"/>
<circle cx="1363.4" cy="1097.2" r="5.4"/>
<circle cx="1365.8" cy="1097.2" r="5.4"/>
<circle cx="1368.2" cy="1097.2" r="5.4"/>
<circle cx="1370.6" cy="1104.9" r="5.4"/>
<circle cx="1373.1" cy="1104.9" r="5.4"/>
<circle cx="1375.5" cy="1104.9" r="5.4"/>
<circle cx="768.7" cy="540.7" r="5.4"/>
<circle cx="771.1" cy="563.0" r="5.4"/>
<circle cx="773.6" cy="592.7" r="5.4"/>
<circle cx="776.0" cy="622.4" r="5.4"/>
<circle cx="778.4" cy="644.6" r="5.4"/>
<circle cx="780.8" cy="666.9" r="5.4"/>
<circle cx="783.3" cy="689.2" r="5.4"/>
<circle cx="785.7" cy="711.4" r="5.4"/>
<circle cx="788.1" cy="726.3" r="5.4"/>
<circle cx="790.5" cy="741.1" r="5.4"/>
<circle cx="793.0" cy="756.0" r="5.4"/>
<circle cx="795.4" cy="770.8" r="5.4"/>
<circle cx="797.8" cy="778.3" r="5.4"/>
<circle cx="800.3" cy="785.7" r="5.4"/>
<circle cx="802.7" cy="793.1" r="5.4"/>
<circle cx="805.1" cy="800.5" r="5.4"/>
<circle cx="807.5" cy="807.9" r="5.4"/>
<circle cx="810.0" cy="807.9" r="5.4"/>
<circle cx="812.4" cy="807.9" r="5.4"/>
<circle cx="814.8" cy="807.9" r="5.4"/>
<circle cx="817.2" cy="807.9" r="5.4"/>
<circle cx="819.7" cy="807.9" r="5.4"/>
<circle cx="822.1" cy="807.9" r="5.4"/>
<circle cx="824.5" cy="807.9" r="5.4"/>
<circle cx="827.0" cy="807.9" r="5.4"/>
<circle cx="829.4" cy="807.9" r="5.4"/>
<circle cx="831.8" cy="807.9" r="5.4"/>
<circle cx="834.2" cy="815.4" r="5.4"/>
<circle cx="836.7" cy="815.4" r="5.4"/>
<circle cx="839.1" cy="822.8" r="5.4"/>
<circle cx="841.5" cy="830.2" r="5.4"/>
<circle cx="843.9" cy="837.6" r="5.4"/>
<circle cx="846.4" cy="852.5" r="5.4"/>
<circle cx="848.8" cy="859.9" r="5.4"/>
<circle cx="851.2" cy="867.3" r="5.4"/>
<circle cx="853.7" cy="882.2" r="5.4"/>
<circle cx="856.1" cy="889.6" r="5.4"/>
<circle cx="858.5" cy="911.9" r="5.4"/>
<circle cx="860.9" cy="919.3" r="5.4"/>
<circle cx="863.4" cy="941.6" r="5.4"/>
<circle cx="865.8" cy="949.0" r="5.4"/>
<circle cx="868.2" cy="963.8" r="5.4"/>
<circle cx="870.6" cy="971.3" r="5.4"/>
<circle cx="873.1" cy="986.1" r="5.4"/>
<circle cx="875.5" cy="993.5" r="5.4"/>
<circle cx="877.9" cy="1008.4" r="5.4"/>
<circle cx="880.4" cy="1015.8" r="5.4"/>
<circle cx="882.8" cy="1015.8" r="5.4"/>
<circle cx="885.2" cy="1023.2" r="5.4"/>
<circle cx="887.6" cy="1030.7" r="5.4"/>
<circle cx="890.1" cy="1038.1" r="5.4"/>
<circle cx="892.5" cy="1045.5" r="5.4"/>
<circle cx="894.9" cy="1052.9" r="5.4"/>
<circle cx="897.3" cy="1060.4" r="5.4"/>
<circle cx="899.8" cy="1067.8" r="5.4"/>
<circle cx="902.2" cy="1067.8" r="5.4"/>
<circle cx="904.6" cy="1075.2" r="5.4"/>
<circle cx="907.1" cy="1075.2" r="5.4"/>
<circle cx="909.5" cy="1090.1" r="5.4"/>
<circle cx="911.9" cy="1090.1" r="5.4"/>
<circle cx="914.3" cy="1090.1" r="5.4"/>
<circle cx="916.8" cy="1095.5" r="5.4"/>
<circle cx="919.2" cy="1095.5" r="5.4"/>
<circle cx="921.6" cy="1095.5" r="5.4"/>
<circle cx="924.0" cy="1095.5" r="5.4"/>
<circle cx="926.5" cy="1095.5" r="5.4"/>
<circle cx="928.9" cy="1095.5" r="5.4"/>
<circle cx="931.3" cy="1095.5" r="5.4"/>
<circle cx="933.7" cy="1095.5" r="5.4"/>
<circle cx="936.2" cy="1095.5" r="5.4"/>
<circle cx="938.6" cy="1095.5" r="5.4"/>
<circle cx="941.0" cy="1095.5" r="5.4"/>
<circle cx="943.5" cy="1095.5" r="5.4"/>
<circle cx="945.9" cy="1095.5" r="5.4"/>
<circle cx="948.3" cy="1095.5" r="5.4"/>
<circle cx="950.7" cy="1095.5" r="5.4"/>
<circle cx="953.2" cy="1095.5" r="5.4"/>
<circle cx="955.6" cy="1095.5" r="5.4"/>
<circle cx="958.0" cy="1095.5" r="5.4"/>
<circle cx="960.4" cy="1095.5" r="5.4"/>
<circle cx="962.9" cy="1095.5" r="5.4"/>
<circle cx="965.3" cy="1095.5" r="5.4"/>
<circle cx="967.7" cy="1095.5" r="5.4"/>
<circle cx="970.2" cy="1095.5" r="5.4"/>
<circle cx="972.6" cy="1095.5" r="5.4"/>
<circle cx="975.0" cy="1095.5" r="5.4"/>
<circle cx="977.4" cy="1095.5" r="5.4"/>
<circle cx="979.9" cy="1095.5" r="5.4"/>
<circle cx="982.3" cy="1095.5" r="5.4"/>
<circle cx="984.7" cy="1095.5" r="5.4"/>
<circle cx="987.1" cy="1095.5" r="5.4"/>
<circle cx="989.6" cy="1095.5" r="5.4"/>
<circle cx="992.0" cy="1095.5" r="5.4"/>
<circle cx="994.4" cy="1095.5" r="5.4"/>
<circle cx="996.9" cy="1095.5" r="5.4"/>
<circle cx="999.3" cy="1095.5" r="5.4"/>
<circle cx="1001.7" cy="1095.5" r="5.4"/>
<circle cx="1004.1" cy="1095.5" r="5.4"/>
<circle cx="1006.6" cy="1095.5" r="5.4"/>
<circle cx="1009.0" cy="1095.5" r="5.4"/>
<circle cx="1011.4" cy="1095.5" r="5.4"/>
<circle cx="1013.8" cy="1095.5" r="5.4"/>
<circle cx="1016.3" cy="1095.5" r="5.4"/>
<circle cx="1018.7" cy="1095.5" r="5.4"/>
<circle cx="1021.1" cy="1095.5" r="5.4"/>
<circle cx="1023.6" cy="1095.5" r="5.4"/>
<circle cx="1026.0" cy="1095.5" r="5.4"/>
<circle cx="1028.4" cy="1097.5" r="5.4"/>
<circle cx="1030.8" cy="1097.5" r="5.4"/>
<circle cx="1033.3" cy="1082.6" r="5.4"/>
<circle cx="1035.7" cy="1082.6" r="5.4"/>
<circle cx="1038.1" cy="1082.6" r="5.4"/>
<circle cx="1040.5" cy="1082.6" r="5.4"/>
<circle cx="1043.0" cy="1082.6" r="5.4"/>
<circle cx="1045.4" cy="1082.6" r="5.4"/>
<circle cx="1047.8" cy="1075.2" r="5.4"/>
<circle cx="1050.3" cy="1075.2" r="5.4"/>
<circle cx="1052.7" cy="1067.8" r="5.4"/>
<circle cx="1055.1" cy="1067.8" r="5.4"/>
<circle cx="1057.5" cy="1067.8" r="5.4"/>
<circle cx="1060.0" cy="1067.8" r="5.4"/>
<circle cx="1062.4" cy="1067.8" r="5.4"/>
<circle cx="1064.8" cy="1052.9" r="5.4"/>
<circle cx="1067.2" cy="1052.9" r="5.4"/>
<circle cx="1069.7" cy="1052.9" r="5.4"/>
<circle cx="1072.1" cy="1052.9" r="5.4"/>
<circle cx="1074.5" cy="1052.9" r="5.4"/>
<circle cx="1077.0" cy="1052.9" r="5.4"/>
<circle cx="1079.4" cy="1045.5" r="5.4"/>
<circle cx="1081.8" cy="1045.5" r="5.4"/>
<circle cx="1084.2" cy="1045.5" r="5.4"/>
<circle cx="1086.7" cy="1045.5" r="5.4"/>
<circle cx="1089.1" cy="1045.5" r="5.4"/>
<circle cx="1091.5" cy="1045.5" r="5.4"/>
<circle cx="1093.9" cy="1038.1" r="5.4"/>
<circle cx="1096.4" cy="1030.7" r="5.4"/>
<circle cx="1098.8" cy="1030.7" r="5.4"/>
<circle cx="1101.2" cy="1030.7" r="5.4"/>
<circle cx="1103.7" cy="1030.7" r="5.4"/>
<circle cx="1106.1" cy="1030.7" r="5.4"/>
<circle cx="1108.5" cy="1030.7" r="5.4"/>
<circle cx="1110.9" cy="1030.7" r="5.4"/>
<circle cx="1113.4" cy="1023.2" r="5.4"/>
<circle cx="1115.8" cy="1023.2" r="5.4"/>
<circle cx="1118.2" cy="1023.2" r="5.4"/>
<circle cx="1120.6" cy="1023.2" r="5.4"/>
<circle cx="1123.1" cy="1015.8" r="5.4"/>
<circle cx="1125.5" cy="1015.8" r="5.4"/>
<circle cx="1127.9" cy="1008.4" r="5.4"/>
<circle cx="1130.4" cy="1008.4" r="5.4"/>
<circle cx="1132.8" cy="1008.4" r="5.4"/>
<circle cx="1135.2" cy="1001.0" r="5.4"/>
<circle cx="1137.6" cy="1001.0" r="5.4"/>
<circle cx="1140.1" cy="1001.0" r="5.4"/>
<circle cx="1142.5" cy="993.5" r="5.4"/>
<circle cx="1144.9" cy="993.5" r="5.4"/>
<circle cx="1147.3" cy="986.1" r="5.4"/>
<circle cx="1149.8" cy="986.1" r="5.4"/>
<circle cx="1152.2" cy="978.7" r="5.4"/>
<circle cx="1154.6" cy="978.7" r="5.4"/>
<circle cx="1157.1" cy="971.3" r="5.4"/>
<circle cx="1159.5" cy="971.3" r="5.4"/>
<circle cx="1161.9" cy="971.3" r="5.4"/>
<circle cx="1164.3" cy="963.8" r="5.4"/>
<circle cx="1166.8" cy="963.8" r="5.4"/>
<circle cx="1169.2" cy="963.8" r="5.4"/>
<circle cx="1171.6" cy="963.8" r="5.4"/>
<circle cx="1174.0" cy="963.8" r="5.4"/>
<circle cx="1176.5" cy="963.8" r="5.4"/>
<circle cx="1178.9" cy="963.8" r="5.4"/>
<circle cx="1181.3" cy="963.8" r="5.4"/>
<circle cx="1183.8" cy="963.8" r="5.4"/>
<circle cx="1186.2" cy="963.8" r="5.4"/>
<circle cx="1188.6" cy="963.8" r="5.4"/>
<circle cx="1191.0" cy="963.8" r="5.4"/>
<circle cx="1193.5" cy="963.8" r="5.4"/>
<circle cx="1195.9" cy="971.3" r="5.4"/>
<circle cx="1198.3" cy="971.3" r="5.4"/>
<circle cx="1200.7" cy="971.3" r="5.4"/>
<circle cx="1203.2" cy="971.3" r="5.4"/>
<circle cx="1205.6" cy="971.3" r="5.4"/>
<circle cx="1208.0" cy="971.3" r="5.4"/>
<circle cx="1210.5" cy="971.3" r="5.4"/>
<circle cx="1212.9" cy="971.3" r="5.4"/>
<circle cx="1215.3" cy="971.3" r="5.4"/>
<circle cx="1217.7" cy="971.3" r="5.4"/>
<circle cx="1220.2" cy="971.3" r="5.4"/>
<circle cx="1222.6" cy="971.3" r="5.4"/>
<circle cx="1225.0" cy="963.8" r="5.4"/>
<circle cx="1227.4" cy="963.8" r="5.4"/>
<circle cx="1229.9" cy="963.8" r="5.4"/>
<circle cx="1232.3" cy="963.8" r="5.4"/>
<circle cx="1234.7" cy="956.4" r="5.4"/>
<circle cx="1237.1" cy="956.4" r="5.4"/>
<circle cx="1239.6" cy="949.0" r="5.4"/>
<circle cx="1242.0" cy="941.6" r="5.4"/>
<circle cx="1244.4" cy="934.2" r="5.4"/>
<circle cx="1246.9" cy="926.7" r="5.4"/>
<circle cx="1249.3" cy="911.9" r="5.4"/>
<circle cx="1251.7" cy="897.0" r="5.4"/>
<circle cx="1254.1" cy="882.2" r="5.4"/>
<circle cx="1256.6" cy="867.3" r="5.4"/>
<circle cx="1259.0" cy="845.1" r="5.4"/>
<circle cx="1261.4" cy="822.8" r="5.4"/>
<circle cx="1263.8" cy="793.1" r="5.4"/>
<circle cx="1266.3" cy="763.4" r="5.4"/>
<circle cx="1268.7" cy="733.7" r="5.4"/>
<circle cx="1271.1" cy="704.0" r="5.4"/>
<circle cx="1273.6" cy="666.9" r="5.4"/>
<circle cx="1276.0" cy="637.2" r="5.4"/>
<circle cx="1278.4" cy="600.1" r="5.4"/>
<circle cx="1280.8" cy="570.4" r="5.4"/>
<circle cx="1283.3" cy="548.1" r="5.4"/>
<circle cx="1285.7" cy="525.8" r="5.4"/>
<circle cx="1288.1" cy="511.0" r="5.4"/>
<circle cx="1290.5" cy="496.2" r="5.4"/>
<circle cx="1293.0" cy="496.2" r="5.4"/>
<circle cx="1295.4" cy="503.6" r="5.4"/>
<circle cx="1297.8" cy="518.4" r="5.4"/>
<circle cx="1300.3" cy="533.3" r="5.4"/>
<circle cx="1302.7" cy="563.0" r="5.4"/>
<circle cx="1305.1" cy="592.7" r="5.4"/>
<circle cx="1307.5" cy="629.8" r="5.4"/>
<circle cx="1310.0" cy="666.9" r="5.4"/>
<circle cx="1312.4" cy="704.0" r="5.4"/>
<circle cx="1314.8" cy="741.1" r="5.4"/>
<circle cx="1317.2" cy="778.3" r="5.4"/>
<circle cx="1319.7" cy="815.4" r="5.4"/>
<circle cx="1322.1" cy="852.5" r="5.4"/>
<circle cx="1324.5" cy="889.6" r="5.4"/>
<circle cx="1327.0" cy="919.3" r="5.4"/>
<circle cx="1329.4" cy="941.6" r="5.4"/>
<circle cx="1331.8" cy="971.3" r="5.4"/>
<circle cx="1334.2" cy="986.1" r="5.4"/>
<circle cx="1336.7" cy="1008.4" r="5.4"/>
<circle cx="1339.1" cy="1023.2" r="5.4"/>
<circle cx="1341.5" cy="1038.1" r="5.4"/>
<circle cx="1343.9" cy="1052.9" r="5.4"/>
<circle cx="1346.4" cy="1060.4" r="5.4"/>
<circle cx="1348.8" cy="1067.8" r="5.4"/>
<circle cx="1351.2" cy="1075.2" r="5.4"/>
<circle cx="1353.7" cy="1082.6" r="5.4"/>
<circle cx="1356.1" cy="1082.6" r="5.4"/>
<circle cx="1358.5" cy="1090.1" r="5.4"/>
<circle cx="1360.9" cy="1090.1" r="5.4"/>
<circle cx="1363.4" cy="1097.5" r="5.4"/>
<circle cx="1365.8" cy="1097.5" r="5.4"/>
<circle cx="1368.2" cy="1097.5" r="5.4"/>
<circle cx="1370.6" cy="1104.9" r="5.4"/>
<circle cx="1373.1" cy="1104.9" r="5.4"/>
<circle cx="1375.5" cy="1104.9" r="5.4"/>
<circle cx="768.7" cy="1058.6" r="5.4"/>
<circle cx="771.1" cy="1063.1" r="5.4"/>
<circle cx="773.6" cy="1067.7" r="5.4"/>
<circle cx="776.0" cy="1070.1" r="5.4"/>
<circle cx="778.4" cy="1072.5" r="5.4"/>
<circle cx="780.8" cy="1074.9" r="5.4"/>
<circle cx="783.3" cy="1077.2" r="5.4"/>
<circle cx="785.7" cy="1078.6" r="5.4"/>
<circle cx="788.1" cy="1079.9" r="5.4"/>
<circle cx="790.5" cy="1081.3" r="5.4"/>
<circle cx="793.0" cy="1082.7" r="5.4"/>
<circle cx="795.4" cy="1084.1" r="5.4"/>
<circle cx="797.8" cy="1085.5" r="5.4"/>
<circle cx="800.3" cy="1086.3" r="5.4"/>
<circle cx="802.7" cy="1086.6" r="5.4"/>
<circle cx="805.1" cy="1087.0" r="5.4"/>
<circle cx="807.5" cy="1087.3" r="5.4"/>
<circle cx="810.0" cy="1087.7" r="5.4"/>
<circle cx="812.4" cy="1088.0" r="5.4"/>
<circle cx="814.8" cy="1088.3" r="5.4"/>
<circle cx="817.2" cy="1088.7" r="5.4"/>
<circle cx="819.7" cy="1088.7" r="5.4"/>
<circle cx="822.1" cy="1088.7" r="5.4"/>
<circle cx="824.5" cy="1088.7" r="5.4"/>
<circle cx="827.0" cy="1088.7" r="5.4"/>
<circle cx="829.4" cy="1088.7" r="5.4"/>
<circle cx="831.8" cy="1088.7" r="5.4"/>
<circle cx="834.2" cy="1088.7" r="5.4"/>
<circle cx="836.7" cy="1088.7" r="5.4"/>
<circle cx="839.1" cy="1088.9" r="5.4"/>
<circle cx="841.5" cy="1089.3" r="5.4"/>
<circle cx="843.9" cy="1089.7" r="5.4"/>
<circle cx="846.4" cy="1090.1" r="5.4"/>
<circle cx="848.8" cy="1090.5" r="5.4"/>
<circle cx="851.2" cy="1090.9" r="5.4"/>
<circle cx="853.7" cy="1091.3" r="5.4"/>
<circle cx="856.1" cy="1091.7" r="5.4"/>
<circle cx="858.5" cy="1092.5" r="5.4"/>
<circle cx="860.9" cy="1093.2" r="5.4"/>
<circle cx="863.4" cy="1094.0" r="5.4"/>
<circle cx="865.8" cy="1094.7" r="5.4"/>
<circle cx="868.2" cy="1095.5" r="5.4"/>
<circle cx="870.6" cy="1096.2" r="5.4"/>
<circle cx="873.1" cy="1097.0" r="5.4"/>
<circle cx="875.5" cy="1097.6" r="5.4"/>
<circle cx="877.9" cy="1098.1" r="5.4"/>
<circle cx="880.4" cy="1098.6" r="5.4"/>
<circle cx="882.8" cy="1099.1" r="5.4"/>
<circle cx="885.2" cy="1099.6" r="5.4"/>
<circle cx="887.6" cy="1100.1" r="5.4"/>
<circle cx="890.1" cy="1100.6" r="5.4"/>
<circle cx="892.5" cy="1101.0" r="5.4"/>
<circle cx="894.9" cy="1101.5" r="5.4"/>
<circle cx="897.3" cy="1102.0" r="5.4"/>
<circle cx="899.8" cy="1102.3" r="5.4"/>
<circle cx="902.2" cy="1102.6" r="5.4"/>
<circle cx="904.6" cy="1103.0" r="5.4"/>
<circle cx="907.1" cy="1103.3" r="5.4"/>
<circle cx="909.5" cy="1103.6" r="5.4"/>
<circle cx="911.9" cy="1103.9" r="5.4"/>
<circle cx="914.3" cy="1104.3" r="5.4"/>
<circle cx="916.8" cy="1104.6" r="5.4"/>
<circle cx="919.2" cy="1104.9" r="5.4"/>
<circle cx="921.6" cy="1104.9" r="5.4"/>
<circle cx="924.0" cy="1104.9" r="5.4"/>
<circle cx="926.5" cy="1104.9" r="5.4"/>
<circle cx="928.9" cy="1104.9" r="5.4"/>
<circle cx="931.3" cy="1104.9" r="5.4"/>
<circle cx="933.7" cy="1104.9" r="5.4"/>
<circle cx="936.2" cy="1104.9" r="5.4"/>
<circle cx="938.6" cy="1104.9" r="5.4"/>
<circle cx="941.0" cy="1104.9" r="5.4"/>
<circle cx="943.5" cy="1104.9" r="5.4"/>
<circle cx="945.9" cy="1104.9" r="5.4"/>
<circle cx="948.3" cy="1104.9" r="5.4"/>
<circle cx="950.7" cy="1104.9" r="5.4"/>
<circle cx="953.2" cy="1104.9" r="5.4"/>
<circle cx="955.6" cy="1104.9" r="5.4"/>
<circle cx="958.0" cy="1104.9" r="5.4"/>
<circle cx="960.4" cy="1104.9" r="5.4"/>
<circle cx="962.9" cy="1104.9" r="5.4"/>
<circle cx="965.3" cy="1104.9" r="5.4"/>
<circle cx="967.7" cy="1104.9" r="5.4"/>
<circle cx="970.2" cy="1104.9" r="5.4"/>
<circle cx="972.6" cy="1104.9" r="5.4"/>
<circle cx="975.0" cy="1104.9" r="5.4"/>
<circle cx="977.4" cy="1104.9" r="5.4"/>
<circle cx="979.9" cy="1104.9" r="5.4"/>
<circle cx="982.3" cy="1104.9" r="5.4"/>
<circle cx="984.7" cy="1104.9" r="5.4"/>
<circle cx="987.1" cy="1104.9" r="5.4"/>
<circle cx="989.6" cy="1104.9" r="5.4"/>
<circle cx="992.0" cy="1104.9" r="5.4"/>
<circle cx="994.4" cy="1104.9" r="5.4"/>
<circle cx="996.9" cy="1104.9" r="5.4"/>
<circle cx="999.3" cy="1104.9" r="5.4"/>
<circle cx="1001.7" cy="1104.9" r="5.4"/>
<circle cx="1004.1" cy="1104.9" r="5.4"/>
<circle cx="1006.6" cy="1104.9" r="5.4"/>
<circle cx="1009.0" cy="1104.9" r="5.4"/>
<circle cx="1011.4" cy="1104.9" r="5.4"/>
<circle cx="1013.8" cy="1104.9" r="5.4"/>
<circle cx="1016.3" cy="1104.9" r="5.4"/>
<circle cx="1018.7" cy="1104.9" r="5.4"/>
<circle cx="1021.1" cy="1104.9" r="5.4"/>
<circle cx="1023.6" cy="1104.9" r="5.4"/>
<circle cx="1026.0" cy="1104.9" r="5.4"/>
<circle cx="1028.4" cy="1104.9" r="5.4"/>
<circle cx="1030.8" cy="1104.9" r="5.4"/>
<circle cx="1033.3" cy="1104.9" r="5.4"/>
<circle cx="1035.7" cy="1104.9" r="5.4"/>
<circle cx="1038.1" cy="1104.6" r="5.4"/>
<circle cx="1040.5" cy="1104.3" r="5.4"/>
<circle cx="1043.0" cy="1104.0" r="5.4"/>
<circle cx="1045.4" cy="1103.6" r="5.4"/>
<circle cx="1047.8" cy="1103.3" r="5.4"/>
<circle cx="1050.3" cy="1103.0" r="5.4"/>
<circle cx="1052.7" cy="1102.7" r="5.4"/>
<circle cx="1055.1" cy="1102.4" r="5.4"/>
<circle cx="1057.5" cy="1102.1" r="5.4"/>
<circle cx="1060.0" cy="1101.8" r="5.4"/>
<circle cx="1062.4" cy="1101.7" r="5.4"/>
<circle cx="1064.8" cy="1101.6" r="5.4"/>
<circle cx="1067.2" cy="1101.4" r="5.4"/>
<circle cx="1069.7" cy="1101.3" r="5.4"/>
<circle cx="1072.1" cy="1101.2" r="5.4"/>
<circle cx="1074.5" cy="1101.1" r="5.4"/>
<circle cx="1077.0" cy="1101.0" r="5.4"/>
<circle cx="1079.4" cy="1100.9" r="5.4"/>
<circle cx="1081.8" cy="1100.8" r="5.4"/>
<circle cx="1084.2" cy="1100.7" r="5.4"/>
<circle cx="1086.7" cy="1100.3" r="5.4"/>
<circle cx="1089.1" cy="1099.8" r="5.4"/>
<circle cx="1091.5" cy="1099.3" r="5.4"/>
<circle cx="1093.9" cy="1098.9" r="5.4"/>
<circle cx="1096.4" cy="1098.4" r="5.4"/>
<circle cx="1098.8" cy="1097.9" r="5.4"/>
<circle cx="1101.2" cy="1097.5" r="5.4"/>
<circle cx="1103.7" cy="1097.0" r="5.4"/>
<circle cx="1106.1" cy="1096.5" r="5.4"/>
<circle cx="1108.5" cy="1096.2" r="5.4"/>
<circle cx="1110.9" cy="1095.8" r="5.4"/>
<circle cx="1113.4" cy="1095.5" r="5.4"/>
<circle cx="1115.8" cy="1095.2" r="5.4"/>
<circle cx="1118.2" cy="1094.8" r="5.4"/>
<circle cx="1120.6" cy="1094.5" r="5.4"/>
<circle cx="1123.1" cy="1094.1" r="5.4"/>
<circle cx="1125.5" cy="1093.8" r="5.4"/>
<circle cx="1127.9" cy="1093.4" r="5.4"/>
<circle cx="1130.4" cy="1093.1" r="5.4"/>
<circle cx="1132.8" cy="1092.8" r="5.4"/>
<circle cx="1135.2" cy="1092.4" r="5.4"/>
<circle cx="1137.6" cy="1092.1" r="5.4"/>
<circle cx="1140.1" cy="1091.7" r="5.4"/>
<circle cx="1142.5" cy="1091.5" r="5.4"/>
<circle cx="1144.9" cy="1091.2" r="5.4"/>
<circle cx="1147.3" cy="1091.0" r="5.4"/>
<circle cx="1149.8" cy="1090.7" r="5.4"/>
<circle cx="1152.2" cy="1090.5" r="5.4"/>
<circle cx="1154.6" cy="1090.2" r="5.4"/>
<circle cx="1157.1" cy="1090.0" r="5.4"/>
<circle cx="1159.5" cy="1089.8" r="5.4"/>
<circle cx="1161.9" cy="1089.5" r="5.4"/>
<circle cx="1164.3" cy="1089.3" r="5.4"/>
<circle cx="1166.8" cy="1089.0" r="5.4"/>
<circle cx="1169.2" cy="1088.8" r="5.4"/>
<circle cx="1171.6" cy="1088.5" r="5.4"/>
<circle cx="1174.0" cy="1088.3" r="5.4"/>
<circle cx="1176.5" cy="1088.3" r="5.4"/>
<circle cx="1178.9" cy="1088.4" r="5.4"/>
<circle cx="1181.3" cy="1088.4" r="5.4"/>
<circle cx="1183.8" cy="1088.5" r="5.4"/>
<circle cx="1186.2" cy="1088.5" r="5.4"/>
<circle cx="1188.6" cy="1088.5" r="5.4"/>
<circle cx="1191.0" cy="1088.6" r="5.4"/>
<circle cx="1193.5" cy="1088.6" r="5.4"/>
<circle cx="1195.9" cy="1088.7" r="5.4"/>
<circle cx="1198.3" cy="1088.7" r="5.4"/>
<circle cx="1200.7" cy="1088.6" r="5.4"/>
<circle cx="1203.2" cy="1088.6" r="5.4"/>
<circle cx="1205.6" cy="1088.5" r="5.4"/>
<circle cx="1208.0" cy="1088.5" r="5.4"/>
<circle cx="1210.5" cy="1088.5" r="5.4"/>
<circle cx="1212.9" cy="1088.4" r="5.4"/>
<circle cx="1215.3" cy="1088.4" r="5.4"/>
<circle cx="1217.7" cy="1088.3" r="5.4"/>
<circle cx="1220.2" cy="1088.3" r="5.4"/>
<circle cx="1222.6" cy="1087.8" r="5.4"/>
<circle cx="1225.0" cy="1087.4" r="5.4"/>
<circle cx="1227.4" cy="1086.9" r="5.4"/>
<circle cx="1229.9" cy="1086.5" r="5.4"/>
<circle cx="1232.3" cy="1086.0" r="5.4"/>
<circle cx="1234.7" cy="1085.6" r="5.4"/>
<circle cx="1237.1" cy="1085.2" r="5.4"/>
<circle cx="1239.6" cy="1084.1" r="5.4"/>
<circle cx="1242.0" cy="1082.5" r="5.4"/>
<circle cx="1244.4" cy="1080.9" r="5.4"/>
<circle cx="1246.9" cy="1079.4" r="5.4"/>
<circle cx="1249.3" cy="1077.8" r="5.4"/>
<circle cx="1251.7" cy="1076.2" r="5.4"/>
<circle cx="1254.1" cy="1074.6" r="5.4"/>
<circle cx="1256.6" cy="1071.5" r="5.4"/>
<circle cx="1259.0" cy="1068.4" r="5.4"/>
<circle cx="1261.4" cy="1065.4" r="5.4"/>
<circle cx="1263.8" cy="1062.3" r="5.4"/>
<circle cx="1266.3" cy="1059.2" r="5.4"/>
<circle cx="1268.7" cy="1056.1" r="5.4"/>
<circle cx="1271.1" cy="1053.1" r="5.4"/>
<circle cx="1273.6" cy="1050.1" r="5.4"/>
<circle cx="1276.0" cy="1047.1" r="5.4"/>
<circle cx="1278.4" cy="1044.1" r="5.4"/>
<circle cx="1280.8" cy="1041.1" r="5.4"/>
<circle cx="1283.3" cy="1039.8" r="5.4"/>
<circle cx="1285.7" cy="1038.5" r="5.4"/>
<circle cx="1288.1" cy="1037.2" r="5.4"/>
<circle cx="1290.5" cy="1035.9" r="5.4"/>
<circle cx="1293.0" cy="1036.5" r="5.4"/>
<circle cx="1295.4" cy="1037.5" r="5.4"/>
<circle cx="1297.8" cy="1038.5" r="5.4"/>
<circle cx="1300.3" cy="1039.9" r="5.4"/>
<circle cx="1302.7" cy="1041.7" r="5.4"/>
<circle cx="1305.1" cy="1043.5" r="5.4"/>
<circle cx="1307.5" cy="1045.7" r="5.4"/>
<circle cx="1310.0" cy="1049.6" r="5.4"/>
<circle cx="1312.4" cy="1053.6" r="5.4"/>
<circle cx="1314.8" cy="1057.5" r="5.4"/>
<circle cx="1317.2" cy="1061.5" r="5.4"/>
<circle cx="1319.7" cy="1065.4" r="5.4"/>
<circle cx="1322.1" cy="1069.3" r="5.4"/>
<circle cx="1324.5" cy="1073.2" r="5.4"/>
<circle cx="1327.0" cy="1077.1" r="5.4"/>
<circle cx="1329.4" cy="1081.0" r="5.4"/>
<circle cx="1331.8" cy="1083.2" r="5.4"/>
<circle cx="1334.2" cy="1085.2" r="5.4"/>
<circle cx="1336.7" cy="1087.2" r="5.4"/>
<circle cx="1339.1" cy="1089.2" r="5.4"/>
<circle cx="1341.5" cy="1091.3" r="5.4"/>
<circle cx="1343.9" cy="1093.0" r="5.4"/>
<circle cx="1346.4" cy="1093.8" r="5.4"/>
<circle cx="1348.8" cy="1094.6" r="5.4"/>
<circle cx="1351.2" cy="1095.4" r="5.4"/>
<circle cx="1353.7" cy="1096.2" r="5.4"/>
<circle cx="1356.1" cy="1097.1" r="5.4"/>
<circle cx="1358.5" cy="1097.6" r="5.4"/>
<circle cx="1360.9" cy="1098.1" r="5.4"/>
<circle cx="1363.4" cy="1098.5" r="5.4"/>
<circle cx="1365.8" cy="1099.0" r="5.4"/>
<circle cx="1368.2" cy="1099.4" r="5.4"/>
<circle cx="1370.6" cy="1099.8" r="5.4"/>
<circle cx="1373.1" cy="1100.3" r="5.4"/>
<circle cx="1375.5" cy="1100.7" r="5.4"/>
</g>
<g fill="#fff" stroke="#7d7d7d" stroke-width="2.4">
<circle cx="768.7" cy="1011.8" r="4.1"/>
<circle cx="771.1" cy="1012.2" r="4.1"/>
<circle cx="773.6" cy="1012.5" r="4.1"/>
<circle cx="776.0" cy="1012.9" r="4.1"/>
<circle cx="778.4" cy="1014.6" r="4.1"/>
<circle cx="780.8" cy="1016.4" r="4.1"/>
<circle cx="783.3" cy="1018.1" r="4.1"/>
<circle cx="785.7" cy="1019.7" r="4.1"/>
<circle cx="788.1" cy="1021.3" r="4.1"/>
<circle cx="790.5" cy="1022.8" r="4.1"/>
<circle cx="793.0" cy="1024.4" r="4.1"/>
<circle cx="795.4" cy="1026.5" r="4.1"/>
<circle cx="797.8" cy="1028.6" r="4.1"/>
<circle cx="800.3" cy="1030.7" r="4.1"/>
<circle cx="802.7" cy="1032.8" r="4.1"/>
<circle cx="805.1" cy="1034.8" r="4.1"/>
<circle cx="807.5" cy="1036.3" r="4.1"/>
<circle cx="810.0" cy="1037.8" r="4.1"/>
<circle cx="812.4" cy="1039.2" r="4.1"/>
<circle cx="814.8" cy="1040.7" r="4.1"/>
<circle cx="817.2" cy="1042.2" r="4.1"/>
<circle cx="819.7" cy="1043.6" r="4.1"/>
<circle cx="822.1" cy="1045.0" r="4.1"/>
<circle cx="824.5" cy="1046.3" r="4.1"/>
<circle cx="827.0" cy="1047.7" r="4.1"/>
<circle cx="829.4" cy="1049.1" r="4.1"/>
<circle cx="831.8" cy="1050.5" r="4.1"/>
<circle cx="834.2" cy="1051.9" r="4.1"/>
<circle cx="836.7" cy="1053.3" r="4.1"/>
<circle cx="839.1" cy="1054.7" r="4.1"/>
<circle cx="841.5" cy="1055.9" r="4.1"/>
<circle cx="843.9" cy="1057.1" r="4.1"/>
<circle cx="846.4" cy="1058.3" r="4.1"/>
<circle cx="848.8" cy="1059.7" r="4.1"/>
<circle cx="851.2" cy="1061.1" r="4.1"/>
<circle cx="853.7" cy="1062.4" r="4.1"/>
<circle cx="856.1" cy="1063.8" r="4.1"/>
<circle cx="858.5" cy="1065.2" r="4.1"/>
<circle cx="860.9" cy="1066.6" r="4.1"/>
<circle cx="863.4" cy="1068.0" r="4.1"/>
<circle cx="865.8" cy="1069.3" r="4.1"/>
<circle cx="868.2" cy="1070.7" r="4.1"/>
<circle cx="870.6" cy="1072.1" r="4.1"/>
<circle cx="873.1" cy="1073.5" r="4.1"/>
<circle cx="875.5" cy="1074.9" r="4.1"/>
<circle cx="877.9" cy="1076.3" r="4.1"/>
<circle cx="880.4" cy="1077.6" r="4.1"/>
<circle cx="882.8" cy="1078.8" r="4.1"/>
<circle cx="885.2" cy="1080.0" r="4.1"/>
<circle cx="887.6" cy="1081.2" r="4.1"/>
<circle cx="890.1" cy="1082.5" r="4.1"/>
<circle cx="892.5" cy="1083.7" r="4.1"/>
<circle cx="894.9" cy="1084.9" r="4.1"/>
<circle cx="897.3" cy="1086.1" r="4.1"/>
<circle cx="899.8" cy="1087.0" r="4.1"/>
<circle cx="902.2" cy="1087.9" r="4.1"/>
<circle cx="904.6" cy="1088.8" r="4.1"/>
<circle cx="907.1" cy="1089.7" r="4.1"/>
<circle cx="909.5" cy="1090.6" r="4.1"/>
<circle cx="911.9" cy="1091.5" r="4.1"/>
<circle cx="914.3" cy="1092.4" r="4.1"/>
<circle cx="916.8" cy="1093.1" r="4.1"/>
<circle cx="919.2" cy="1093.5" r="4.1"/>
<circle cx="921.6" cy="1094.0" r="4.1"/>
<circle cx="924.0" cy="1094.4" r="4.1"/>
<circle cx="926.5" cy="1094.9" r="4.1"/>
<circle cx="928.9" cy="1095.3" r="4.1"/>
<circle cx="931.3" cy="1095.8" r="4.1"/>
<circle cx="933.7" cy="1096.2" r="4.1"/>
<circle cx="936.2" cy="1096.7" r="4.1"/>
<circle cx="938.6" cy="1097.1" r="4.1"/>
<circle cx="941.0" cy="1097.5" r="4.1"/>
<circle cx="943.5" cy="1097.9" r="4.1"/>
<circle cx="945.9" cy="1098.1" r="4.1"/>
<circle cx="948.3" cy="1098.2" r="4.1"/>
<circle cx="950.7" cy="1098.4" r="4.1"/>
<circle cx="953.2" cy="1098.6" r="4.1"/>
<circle cx="955.6" cy="1098.7" r="4.1"/>
<circle cx="958.0" cy="1098.9" r="4.1"/>
<circle cx="960.4" cy="1099.1" r="4.1"/>
<circle cx="962.9" cy="1099.2" r="4.1"/>
<circle cx="965.3" cy="1099.4" r="4.1"/>
<circle cx="967.7" cy="1099.5" r="4.1"/>
<circle cx="970.2" cy="1099.7" r="4.1"/>
<circle cx="972.6" cy="1099.9" r="4.1"/>
<circle cx="975.0" cy="1100.0" r="4.1"/>
<circle cx="977.4" cy="1100.2" r="4.1"/>
<circle cx="979.9" cy="1100.3" r="4.1"/>
<circle cx="982.3" cy="1100.5" r="4.1"/>
<circle cx="984.7" cy="1100.7" r="4.1"/>
<circle cx="987.1" cy="1100.8" r="4.1"/>
<circle cx="989.6" cy="1100.9" r="4.1"/>
<circle cx="992.0" cy="1101.0" r="4.1"/>
<circle cx="994.4" cy="1101.1" r="4.1"/>
<circle cx="996.9" cy="1101.1" r="4.1"/>
<circle cx="999.3" cy="1101.2" r="4.1"/>
<circle cx="1001.7" cy="1101.2" r="4.1"/>
<circle cx="1004.1" cy="1101.3" r="4.1"/>
<circle cx="1006.6" cy="1101.3" r="4.1"/>
<circle cx="1009.0" cy="1101.4" r="4.1"/>
<circle cx="1011.4" cy="1101.4" r="4.1"/>
<circle cx="1013.8" cy="1101.5" r="4.1"/>
<circle cx="1016.3" cy="1101.6" r="4.1"/>
<circle cx="1018.7" cy="1101.6" r="4.1"/>
<circle cx="1021.1" cy="1101.7" r="4.1"/>
<circle cx="1023.6" cy="1101.7" r="4.1"/>
<circle cx="1026.0" cy="1101.8" r="4.1"/>
<circle cx="1028.4" cy="1101.8" r="4.1"/>
<circle cx="1030.8" cy="1101.9" r="4.1"/>
<circle cx="1033.3" cy="1102.0" r="4.1"/>
<circle cx="1035.7" cy="1102.0" r="4.1"/>
<circle cx="1038.1" cy="1102.0" r="4.1"/>
<circle cx="1040.5" cy="1102.1" r="4.1"/>
<circle cx="1043.0" cy="1102.1" r="4.1"/>
<circle cx="1045.4" cy="1102.1" r="4.1"/>
<circle cx="1047.8" cy="1102.2" r="4.1"/>
<circle cx="1050.3" cy="1102.2" r="4.1"/>
<circle cx="1052.7" cy="1102.3" r="4.1"/>
<circle cx="1055.1" cy="1102.3" r="4.1"/>
<circle cx="1057.5" cy="1102.3" r="4.1"/>
<circle cx="1060.0" cy="1102.4" r="4.1"/>
<circle cx="1062.4" cy="1102.4" r="4.1"/>
<circle cx="1064.8" cy="1102.4" r="4.1"/>
<circle cx="1067.2" cy="1102.5" r="4.1"/>
<circle cx="1069.7" cy="1102.5" r="4.1"/>
<circle cx="1072.1" cy="1102.5" r="4.1"/>
<circle cx="1074.5" cy="1102.6" r="4.1"/>
<circle cx="1077.0" cy="1102.6" r="4.1"/>
<circle cx="1079.4" cy="1102.6" r="4.1"/>
<circle cx="1081.8" cy="1102.6" r="4.1"/>
<circle cx="1084.2" cy="1102.6" r="4.1"/>
<circle cx="1086.7" cy="1102.5" r="4.1"/>
<circle cx="1089.1" cy="1102.5" r="4.1"/>
<circle cx="1091.5" cy="1102.5" r="4.1"/>
<circle cx="1093.9" cy="1102.5" r="4.1"/>
<circle cx="1096.4" cy="1102.5" r="4.1"/>
<circle cx="1098.8" cy="1102.5" r="4.1"/>
<circle cx="1101.2" cy="1102.5" r="4.1"/>
<circle cx="1103.7" cy="1102.4" r="4.1"/>
<circle cx="1106.1" cy="1102.4" r="4.1"/>
<circle cx="1108.5" cy="1102.4" r="4.1"/>
<circle cx="1110.9" cy="1102.4" r="4.1"/>
<circle cx="1113.4" cy="1102.4" r="4.1"/>
<circle cx="1115.8" cy="1102.4" r="4.1"/>
<circle cx="1118.2" cy="1102.4" r="4.1"/>
<circle cx="1120.6" cy="1102.4" r="4.1"/>
<circle cx="1123.1" cy="1102.3" r="4.1"/>
<circle cx="1125.5" cy="1102.3" r="4.1"/>
<circle cx="1127.9" cy="1102.3" r="4.1"/>
<circle cx="1130.4" cy="1102.3" r="4.1"/>
<circle cx="1132.8" cy="1102.3" r="4.1"/>
<circle cx="1135.2" cy="1102.3" r="4.1"/>
<circle cx="1137.6" cy="1102.3" r="4.1"/>
<circle cx="1140.1" cy="1102.2" r="4.1"/>
<circle cx="1142.5" cy="1102.2" r="4.1"/>
<circle cx="1144.9" cy="1102.2" r="4.1"/>
<circle cx="1147.3" cy="1102.2" r="4.1"/>
<circle cx="1149.8" cy="1102.2" r="4.1"/>
<circle cx="1152.2" cy="1102.1" r="4.1"/>
<circle cx="1154.6" cy="1102.1" r="4.1"/>
<circle cx="1157.1" cy="1102.1" r="4.1"/>
<circle cx="1159.5" cy="1102.1" r="4.1"/>
<circle cx="1161.9" cy="1102.1" r="4.1"/>
<circle cx="1164.3" cy="1102.1" r="4.1"/>
<circle cx="1166.8" cy="1102.0" r="4.1"/>
<circle cx="1169.2" cy="1102.0" r="4.1"/>
<circle cx="1171.6" cy="1102.0" r="4.1"/>
<circle cx="1174.0" cy="1102.0" r="4.1"/>
<circle cx="1176.5" cy="1102.0" r="4.1"/>
<circle cx="1178.9" cy="1102.0" r="4.1"/>
<circle cx="1181.3" cy="1101.9" r="4.1"/>
<circle cx="1183.8" cy="1101.9" r="4.1"/>
<circle cx="1186.2" cy="1101.9" r="4.1"/>
<circle cx="1188.6" cy="1101.9" r="4.1"/>
<circle cx="1191.0" cy="1101.9" r="4.1"/>
<circle cx="1193.5" cy="1101.9" r="4.1"/>
<circle cx="1195.9" cy="1101.8" r="4.1"/>
<circle cx="1198.3" cy="1101.8" r="4.1"/>
<circle cx="1200.7" cy="1101.8" r="4.1"/>
<circle cx="1203.2" cy="1101.8" r="4.1"/>
<circle cx="1205.6" cy="1101.8" r="4.1"/>
<circle cx="1208.0" cy="1101.6" r="4.1"/>
<circle cx="1210.5" cy="1101.5" r="4.1"/>
<circle cx="1212.9" cy="1101.3" r="4.1"/>
<circle cx="1215.3" cy="1101.2" r="4.1"/>
<circle cx="1217.7" cy="1101.1" r="4.1"/>
<circle cx="1220.2" cy="1100.9" r="4.1"/>
<circle cx="1222.6" cy="1100.5" r="4.1"/>
<circle cx="1225.0" cy="1100.0" r="4.1"/>
<circle cx="1227.4" cy="1099.5" r="4.1"/>
<circle cx="1229.9" cy="1099.1" r="4.1"/>
<circle cx="1232.3" cy="1098.6" r="4.1"/>
<circle cx="1234.7" cy="1098.0" r="4.1"/>
<circle cx="1237.1" cy="1097.4" r="4.1"/>
<circle cx="1239.6" cy="1096.8" r="4.1"/>
<circle cx="1242.0" cy="1096.3" r="4.1"/>
<circle cx="1244.4" cy="1095.7" r="4.1"/>
<circle cx="1246.9" cy="1095.2" r="4.1"/>
<circle cx="1249.3" cy="1094.7" r="4.1"/>
<circle cx="1251.7" cy="1094.1" r="4.1"/>
<circle cx="1254.1" cy="1093.6" r="4.1"/>
<circle cx="1256.6" cy="1093.2" r="4.1"/>
<circle cx="1259.0" cy="1092.7" r="4.1"/>
<circle cx="1261.4" cy="1092.3" r="4.1"/>
<circle cx="1263.8" cy="1091.9" r="4.1"/>
<circle cx="1266.3" cy="1091.4" r="4.1"/>
<circle cx="1268.7" cy="1090.7" r="4.1"/>
<circle cx="1271.1" cy="1090.1" r="4.1"/>
<circle cx="1273.6" cy="1089.5" r="4.1"/>
<circle cx="1276.0" cy="1088.8" r="4.1"/>
<circle cx="1278.4" cy="1088.2" r="4.1"/>
<circle cx="1280.8" cy="1087.9" r="4.1"/>
<circle cx="1283.3" cy="1087.7" r="4.1"/>
<circle cx="1285.7" cy="1087.4" r="4.1"/>
<circle cx="1288.1" cy="1087.2" r="4.1"/>
<circle cx="1290.5" cy="1087.3" r="4.1"/>
<circle cx="1293.0" cy="1087.6" r="4.1"/>
<circle cx="1295.4" cy="1087.9" r="4.1"/>
<circle cx="1297.8" cy="1088.2" r="4.1"/>
<circle cx="1300.3" cy="1089.1" r="4.1"/>
<circle cx="1302.7" cy="1089.9" r="4.1"/>
<circle cx="1305.1" cy="1090.8" r="4.1"/>
<circle cx="1307.5" cy="1091.7" r="4.1"/>
<circle cx="1310.0" cy="1092.6" r="4.1"/>
<circle cx="1312.4" cy="1093.5" r="4.1"/>
<circle cx="1314.8" cy="1094.4" r="4.1"/>
<circle cx="1317.2" cy="1095.3" r="4.1"/>
<circle cx="1319.7" cy="1096.2" r="4.1"/>
<circle cx="1322.1" cy="1097.0" r="4.1"/>
<circle cx="1324.5" cy="1097.7" r="4.1"/>
<circle cx="1327.0" cy="1098.4" r="4.1"/>
<circle cx="1329.4" cy="1099.0" r="4.1"/>
<circle cx="1331.8" cy="1099.6" r="4.1"/>
<circle cx="1334.2" cy="1100.2" r="4.1"/>
<circle cx="1336.7" cy="1100.6" r="4.1"/>
<circle cx="1339.1" cy="1101.0" r="4.1"/>
<circle cx="1341.5" cy="1101.3" r="4.1"/>
<circle cx="1343.9" cy="1101.7" r="4.1"/>
<circle cx="1346.4" cy="1102.0" r="4.1"/>
<circle cx="1348.8" cy="1102.3" r="4.1"/>
<circle cx="1351.2" cy="1102.5" r="4.1"/>
<circle cx="1353.7" cy="1102.8" r="4.1"/>
<circle cx="1356.1" cy="1103.0" r="4.1"/>
<circle cx="1358.5" cy="1103.2" r="4.1"/>
<circle cx="1360.9" cy="1103.5" r="4.1"/>
<circle cx="1363.4" cy="1103.7" r="4.1"/>
<circle cx="1365.8" cy="1103.9" r="4.1"/>
<circle cx="1368.2" cy="1104.2" r="4.1"/>
<circle cx="1370.6" cy="1104.4" r="4.1"/>
<circle cx="1373.1" cy="1104.7" r="4.1"/>
<circle cx="1375.5" cy="1104.9" r="4.1"/>
</g>
</svg></body></html>
